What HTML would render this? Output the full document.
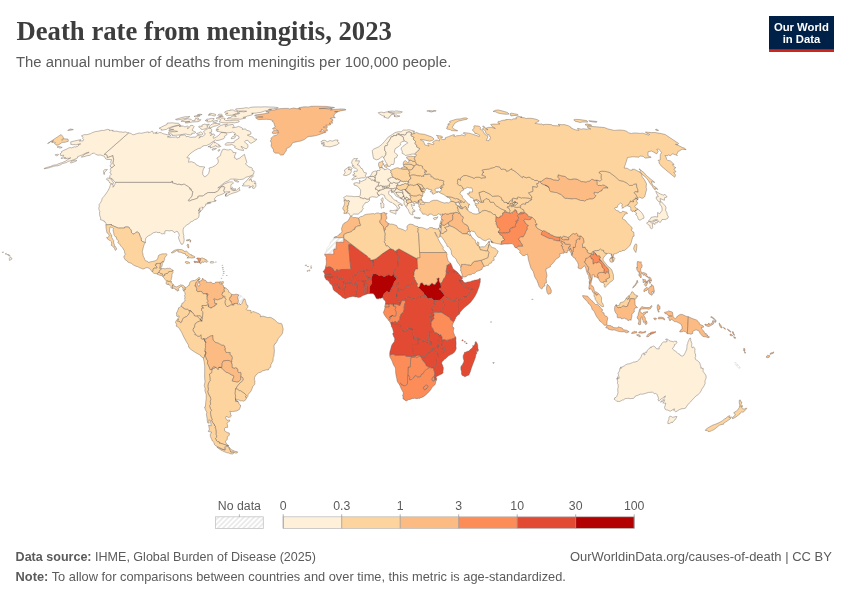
<!DOCTYPE html>
<html lang="en"><head><meta charset="utf-8"><title>Death rate from meningitis, 2023</title>
<style>
html,body{margin:0;padding:0;background:#fff;width:850px;height:600px;overflow:hidden}
svg{will-change:transform;display:block;position:absolute;left:0;top:0;font-family:"Liberation Sans",sans-serif}
.title{font-family:"Liberation Serif",serif;font-weight:bold;fill:#3d3d3d}
.sub{fill:#5b5b5b}
.logo{fill:#fff;font-weight:bold}
.leg{fill:#5b5b5b}
.foot{fill:#5b5b5b}
.map path{stroke:#5f5650;stroke-width:0.4;stroke-linejoin:round}
.c0{fill:#fef0d9}.c1{fill:#fdd49e}.c2{fill:#fdbb84}.c3{fill:#fc8d59}.c4{fill:#e34a33}.c5{fill:#b30000}.cn{fill:url(#nd)}.map path.cn{stroke:#cfcfcf}
</style></head><body>
<svg width="850" height="600" viewBox="0 0 850 600">
<defs><pattern id="nd" width="3.6" height="3.6" patternUnits="userSpaceOnUse" patternTransform="rotate(-45)"><rect width="3.6" height="3.6" fill="#fff"/><line x1="0" y1="1.8" x2="3.6" y2="1.8" stroke="#dddddd" stroke-width="1.1"/></pattern></defs>
<text class="title" x="16.5" y="40" font-size="27" transform="translate(16.5 0) scale(0.989 1) translate(-16.5 0)">Death rate from meningitis, 2023</text>
<text class="sub" x="16" y="66.8" font-size="14.5" transform="translate(16 0) scale(1.026 1) translate(-16 0)">The annual number of deaths from meningitis per 100,000 people.</text>
<rect x="769" y="16" width="65" height="36" fill="#002147"/><rect x="769" y="49.2" width="65" height="2.8" fill="#ce261e"/>
<text class="logo" x="801.4" y="30.6" font-size="11.3" text-anchor="middle">Our World</text>
<text class="logo" x="801.5" y="42.6" font-size="11.3" text-anchor="middle">in Data</text>
<g class="map"><path class="cn" d="M336.3,242.2L336.2,248.9L334.1,249.1L333.6,250.4L333.9,254.2L325,254.2L324.5,255.1L324.7,254L324.8,252.7L325.7,252L326.5,250.7L326.3,249.8L327.2,248L328.5,246.3L329.2,245.9L329.9,244.4L330,242.9L330.8,241.4L332.3,240.4L333.8,237.7L333.9,237.7L343.8,237.7L343.8,238.4L343.8,238.3L343.7,242.3Z"/>
<path class="cn" d="M241.9,303.4L241,304.4L239.9,304.6L239.6,303.8L239.1,303.7L238.4,304.4L237.4,303.9L238,302.8L238.2,301.6L238.6,300.5L237.7,298.9L237.6,297.1L238.9,294.9L239.6,295.2L241.3,295.8L243.7,298L244.1,299.1L242.7,301.5Z"/>
<path class="cn" d="M740.4,367.8L739.4,368.4L738.3,367.7L737,366.5L735.9,365.2L734.9,363.3L734.8,362.4L735.8,362.5L736.8,363.4L737.6,364.3L738.1,365L739.6,366.6Z"/>
<path class="c5" d="M369.4,287.7L369.8,286L370.5,285.3L371.7,283.6L371.4,282.9L371.9,281.9L371.3,280.3L371.4,279.5L371.6,277.1L372.2,276.1L372.5,274.6L373.1,274L375.6,273.7L377.9,274.7L378.8,275.6L379.9,275.7L381,275.1L383.8,276.4L384.9,276.4L386.3,275.2L387.6,275.3L388.3,274.9L389.5,275.1L391.3,275.9L393.1,274.4L393.6,274.5L395.2,277.4L395.6,277.3L396.6,278.3L396.3,278.8L396.2,279.7L394.3,281.7L393.7,283.4L393.4,284.7L392.9,285.3L392.5,287.1L391.2,288.2L390.9,289.5L390.4,290.6L390.2,291.7L388.6,292.6L387.3,291.5L386.4,291.5L385.1,293.1L384.4,293.1L383.3,295.6L382.7,297.5L380.3,298.4L379.5,298.3L378.6,298.8L376.7,298.8L375.5,297.1L374.7,295.3L373.1,293.5L371.4,293.6L369.3,293.6L369.5,289.4Z"/>
<path class="c4" d="M368.1,276.9L365.5,276.4L365.4,275.1L364.1,273.4L363.8,272.2L364,270.9L366.3,269.9L369.4,269.7L371.4,269.3L371.6,267.7L372.9,265.9L372.8,259.9L376,258.7L382.5,253.6L390.2,248.6L393.7,249.7L395,251.2L396.6,250.2L397.3,254.3L398.1,254.9L398.2,255.8L399.1,256.7L398.7,257.8L397.9,263.1L397.9,266.5L395,269L394.1,272.4L394,274.7L394,275.2L393.6,274.5L393.1,274.4L391.3,275.9L389.5,275.1L388.3,274.9L387.6,275.3L386.3,275.2L384.9,276.4L383.8,276.4L381,275.1L379.9,275.7L378.8,275.6L377.9,274.7L375.6,273.7L373.1,274L372.5,274.6L372.2,276.1L371.6,277.1L371.4,279.5L369.7,277.9L368.8,278L368.1,278.7L368.1,277.7L367.3,276.7Z"/>
<path class="c4" d="M398.7,283.9L397.4,281.5L397.4,279.7L397.3,278L396.3,276.3L395.6,277.3L395.2,277.4L393.6,274.5L394,275.2L394,274.7L394.1,272.4L395,269L397.9,266.5L397.9,263.1L398.7,257.8L399.1,256.7L398.2,255.8L398.1,254.9L397.3,254.3L396.6,250.2L398.9,248.8L408,253.8L417.2,258.8L417.7,269.1L415.7,269L414.7,270.9L414.1,272.5L414.6,273.1L413.9,273.9L414.2,275L413.6,276.1L413.4,277L414.2,276.9L414.7,277.9L414.8,279.4L415.6,280.2L415.6,280.8L413.5,281.8L413,282.3L411.4,285.2L409.2,286.4L407,286.2L406.4,286.5L406.6,287.4L405.4,288.3L404.5,289.3L401.6,290.3L401,289.7L400.6,289.7L400.2,290.3L398.3,290.5L397.9,288L395.2,285L395.7,283.7Z"/>
<path class="c5" d="M440.4,289.8L441.6,291L442,292.1L443,292.7L444.5,295.5L442.9,297.3L441.5,298.8L440.1,300L438.5,300L436.6,300.6L435.2,300L434.2,300.8L432.2,299L431.6,297.9L430.3,298.5L429.3,298.3L428.7,298.7L427.6,298.4L426.2,296.3L425.8,295.4L424.1,294.4L423.5,292.8L422.5,291.7L420.9,290.3L420.9,289.9L418.1,287.4L418.8,287.1L419.5,286.6L420.1,284.3L420.7,283.1L422.4,282.7L422.8,283.4L424,285L424.6,285.2L425.4,284.7L427.1,284.8L427.4,285.4L429.7,285.4L429.8,284.8L431,284.3L431.2,283.6L432,283L434,284.6L435.2,284.3L436.3,282.4L437.5,281L437.2,279.4L436.7,278.7L438,278.5L438.2,277.9L439.3,278.1L439,280L439.4,281.9L440.6,282.9L440.9,283.9L440.8,285.2L441.2,285.2L441.2,287.2L440.9,288L439.7,288.1L439.2,289.2L439.6,289.7ZM439.4,288.8L439.7,288.1L440.2,288.1Z"/>
<path class="c2" d="M447.8,264.8L447.1,265.6L446.9,267.4L446.1,271.2L446.4,272.3L446.1,274.5L445.3,277.1L444,278.4L443,280.4L442.8,281.4L441.8,282.2L441.2,284.9L441.2,287.2L441.2,285.2L440.8,285.2L440.9,283.9L440.6,282.9L439.4,281.9L439,280L439.3,278.1L438.2,277.9L438,278.5L436.7,278.7L437.2,279.4L437.5,281L436.3,282.4L435.2,284.3L434,284.6L432,283L431.2,283.6L431,284.3L429.8,284.8L429.7,285.4L427.4,285.4L427.1,284.8L425.4,284.7L424.6,285.2L424,285L422.8,283.4L422.4,282.7L420.7,283.1L420.1,284.3L419.5,286.6L418.8,287.1L418.1,287.4L417.1,286.5L416.9,285.7L417.3,284.6L417.2,283.6L415.9,281.9L415.6,280.8L415.6,280.2L414.8,279.4L414.7,277.9L414.2,276.9L413.4,277L413.6,276.1L414.2,275L413.9,273.9L414.6,273.1L414.1,272.5L414.7,270.9L415.7,269L417.7,269.1L417.2,258.8L417.2,257.7L419.8,257.7L419.6,252.5L446.4,252.5L447.3,255L446.8,255.5L447.3,258.2L448.3,261.3L449.2,261.9L450.5,262.9L449.4,264.4Z"/>
<path class="c4" d="M460.2,277.2L459.4,276.3L458.3,274.8L457.3,274L456.7,273L454.6,272L453.1,272L452.5,271.4L451.2,272L449.7,270.8L449.1,272.8L446.4,272.3L446.1,271.2L446.9,267.4L447.1,265.6L447.8,264.8L449.4,264.4L450.5,262.9L452,265.9L452.7,268.3L454,269.6L457.3,272.1L458.6,273.6L459.9,275.1L460.7,276L461.8,276.7L461.2,277.4Z"/>
<path class="c4" d="M460.7,280.9L460.8,280.9L460.2,281.1L459,281.1L458.9,280.2L458.7,279.5L459.4,278.3L460.2,277.2L461.2,277.4L461.8,276.7L462.4,277.6L462.4,278.7L461.1,279.3L462.1,280L461.6,281.2L461.3,281.4Z"/>
<path class="c4" d="M441.2,284.9L441.2,284.7L441.8,282.2L442.8,281.4L443,280.4L444,278.4L445.3,277.1L446.1,274.5L446.4,272.3L449.1,272.8L449.7,270.8L451.2,272L452.5,271.4L453.1,272L454.6,272L456.7,273L457.3,274L458.3,274.8L459.4,276.3L460.2,277.2L459.4,278.3L458.7,279.5L458.9,280.2L459,281.1L460.2,281.1L460.7,280.9L461.3,281.4L460.8,282.3L461.7,283.7L462.6,285L463.5,285.9L471.1,289L473.1,289L466.7,296.9L463.7,297L461.7,298.8L460.9,298.8L459.6,299.7L458.1,299.7L457.3,298.9L457,298.8L455,299.9L454.4,301L452.8,300.8L452.3,300.5L451.8,300.5L451,300.5L448.1,298.3L446.5,298.3L445.7,297.4L445.7,296L444.5,295.5L443,292.7L442,292.1L441.6,291L440.4,289.8L439.6,289.7L439.2,289.2L439.4,288.8L440.2,288.1L440.9,288L441.2,287.2Z"/>
<path class="c4" d="M457.7,302.7L459.6,299.7L460.9,298.8L461.7,298.8L463.7,297L466.7,296.9L473.1,289L471.1,289L463.5,285.9L462.6,285L461.7,283.7L460.8,282.3L461.3,281.4L461.6,281.2L462.1,280L462.9,280.5L463.4,281.6L464.4,282.6L465.6,282.7L467.7,282L470.2,281.7L472.2,280.8L473.3,280.7L474.1,280.2L475.4,280.1L476.1,280.1L477.2,279.7L478.4,279.4L479.4,278.5L480.3,278.5L480.4,279.2L480.2,280.7L480.3,282.1L479.9,283.1L479.3,285.9L478.3,288.8L477,292.2L475.1,296L473.2,298.9L470.5,302.4L468.2,304.6L464.8,307.2L462.7,309.2L460.1,312.3L459.6,313.7L459.1,314.3L457.7,312.2Z"/>
<path class="c4" d="M457.3,298.9L458.1,299.7L459.6,299.7L457.7,302.7L457.7,312.2L459.1,314.3L457.4,315.4L456.9,316.5L456,316.6L455.7,318.5L454.9,319.5L454.4,321.3L453.5,322.1L450.2,319.5L450.1,318L441.4,312.4L441.3,309.6L442,308.6L443.1,306.8L444,304.9L442.9,302L442.6,300.6L441.5,298.8L442.9,297.3L444.5,295.5L445.7,296L445.7,297.4L446.5,298.3L448.1,298.3L451,300.5L451.8,300.5L452.3,300.5L452.8,300.8L454.4,301L455,299.9L457,298.8Z"/>
<path class="c4" d="M442.6,300.6L442.9,302L444,304.9L443.1,306.8L442,308.6L441.3,309.6L441.4,312.4L436.7,312.6L434.1,312.6L433.3,312.9L431.9,313.7L431.4,313.4L431.4,311.5L431.9,310.5L432.1,308.4L432.6,307.2L433.4,305.8L434.3,305.1L435,304.2L434.1,303.8L434.2,300.8L435.2,300L436.6,300.6L438.5,300L440.1,300L441.5,298.8Z"/>
<path class="c4" d="M434.1,315.9L433.4,316.2L432.2,316.1L431.5,317.5L430.1,317.3L430.3,315.9L430.6,315.7L430.7,314.2L431.4,313.4L431.9,313.7L433.3,312.9L434.2,314.4Z"/>
<path class="c4" d="M430.1,317.3L431.5,317.5L432.2,316.1L433.4,316.2L433.6,317.3L434,317.8L434,318.7L433.5,319.2L432.6,320.6L431.7,321.5L430.8,321.7L430.7,318.5Z"/>
<path class="c4" d="M440.7,334.5L441.1,335.2L441.9,336.5L442.4,340L441.7,342L442.2,345.4L443,345.4L443.8,346.2L444.7,348.1L444.7,351.5L443.7,352L443,353.8L441.5,352.2L441.5,350.4L442,349.1L441.9,348.1L441,347.4L440.4,347.7L439.1,346.4L437.9,345.7L438.7,343.3L439.5,342.4L439.1,340.2L439.6,338.1L440,337.4L438.4,334L439.5,335.2Z"/>
<path class="c3" d="M438.4,334L439.9,337.1L438.9,336ZM453.5,322.1L452.4,325.4L452.5,326.8L453.9,327.8L454,328.5L453.3,330L453.4,330.8L453.3,332.1L454,333.7L454.9,336.3L455.7,336.9L453.8,338.4L451.3,339.4L449.9,339.4L449.1,340.1L447.5,340.2L446.9,340.5L444.1,339.8L442.4,340L441.9,336.5L441.1,335.2L440.7,334.5L439.5,335.2L438.4,334L437.1,333.2L435.7,332.8L434.8,332.4L433.8,331.7L432.6,328.4L431.3,327L430.9,325.4L431.1,324.1L430.8,321.7L431.7,321.5L432.6,320.6L433.5,319.2L434,318.7L434,317.8L433.6,317.3L433.4,316.2L434.1,315.9L434.2,314.4L433.3,312.9L434.1,312.6L436.7,312.6L441.4,312.4L450.1,318L450.2,319.5Z"/>
<path class="c3" d="M427.5,387.6L427,388.5L425.8,388.9L425.3,389.7L424.5,390L423,388L424.3,386.3L425.5,385.3L426.6,384.8L427.5,385.6L428.3,386.3Z"/>
<path class="c3" d="M433,381.2L431.8,379.8L431.8,378.9L432.5,377.9L432.7,377.1L433.4,376.9L434.5,377.4L434.7,378.6L434.8,379.7L434.3,380.9Z"/>
<path class="c4" d="M421.4,358.3L420.6,356.3L423.1,356.5L423.9,356.8L424.6,356.8L426,355.1L428,352.9L428.9,352.7L429.2,351.8L430.5,350.8L432.2,350.4L433.9,351.4L434.3,351.3L435.3,351.9L435.5,352.2L436.3,352.6L436.8,352.7L438,353.6L437.8,356.9L437.3,358.7L437.1,360.6L437.4,361.4L437.1,362.9L436.8,363.2L436.1,365.1L433.5,368L431.6,368.1L429.6,367.6L426.5,366.1L425,363.2L422.5,360.3Z"/>
<path class="c3" d="M421.4,358.3L422.5,360.3L425,363.2L426.5,366.1L429.6,367.6L426.3,369.6L424.2,371.5L423.4,373.2L422.7,374.2L421.4,374.4L421,375.7L420.7,376.5L419.2,377.1L417.4,377L416.4,376.2L415.4,375.9L414.3,376.5L413.7,377.8L412.6,378.6L411.5,379.7L409.8,380L409.4,379.1L409.7,377.5L408.4,375L407.8,374.6L408.1,367L410.3,366.9L410.7,357.6L412.4,357.5L415.9,356.6L416.7,357.7L418.2,356.6L418.9,356.6L420.2,356L420.6,356.3Z"/>
<path class="c3" d="M393.8,354.2L395.1,355.4L395.5,355.2L404.7,355.1L406.1,356.2L412.2,356.6L411.8,356.8L416,355.7L417.8,355.1L419.3,355.2L420.2,355.8L420.2,356L418.9,356.6L418.2,356.6L416.7,357.7L415.9,356.6L412.4,357.5L410.7,357.6L410.3,366.9L408.1,367L407.8,374.6L407.4,384.3L405.4,385.6L404.1,385.8L402.8,385.3L401.8,385.1L401.5,384L400.6,383.3L399.5,384.6L397.9,382.6L397.1,380.7L396.7,378.1L396.2,376.2L395.6,372.2L395.6,369.1L395.3,367.7L394.5,366.6L393.3,364.4L392.2,361.3L390.9,358.8L389.9,357.1L389.8,355.1L391,354.6L392.3,354.2Z"/>
<path class="c3" d="M401.5,384L401.8,385.1L402.8,385.3L404.1,385.8L405.4,385.6L407.4,384.3L407.8,374.6L408.4,375L409.7,377.5L409.4,379.1L409.8,380L411.5,379.7L412.6,378.6L413.7,377.8L414.3,376.5L415.4,375.9L416.4,376.2L417.4,377L419.2,377.1L420.7,376.5L421,375.7L421.4,374.4L422.7,374.2L423.4,373.2L424.2,371.5L426.3,369.6L429.6,367.6L431.6,368.1L433.5,368L434.4,371.7L434.9,373.6L434.3,376.5L434.5,377.4L433.4,376.9L432.7,377.1L432.5,377.9L431.8,378.9L431.8,379.8L433,381.2L434.3,380.9L434.8,379.7L436.5,379.8L435.8,381.7L435.4,383.8L434.7,385L433.1,386.3L432.7,386.7L431.6,388L430.9,389.4L429.5,391.3L426.8,393.9L425.1,395.5L423.3,396.7L420.9,397.7L419.8,397.9L419.5,398.6L418.2,398.2L417,398.7L414.7,398.2L413.4,398.5L412.5,398.4L410.1,399.4L408.2,399.8L406.8,400.8L405.8,400.9L405,399.9L404.3,399.9L403.4,398.7L403.3,399.1L403,398.4L403.1,396.8L402.5,395.1L403.2,394.6L403.3,392.6L402,390.2L400.9,388L399.5,384.6L400.6,383.3ZM426.6,384.8L425.5,385.3L424.3,386.3L423,388L424.5,390L425.3,389.7L425.8,388.9L427,388.5L427.5,387.6L428.3,386.3L427.5,385.6Z"/>
<path class="c4" d="M446.9,340.5L447.5,340.2L449.1,340.1L449.9,339.4L451.3,339.4L453.8,338.4L455.7,336.9L456,338.1L455.9,340.6L456.1,342.9L456,347L456.3,348.3L455.6,350.2L454.6,352L453,353.6L450.9,354.6L448.3,355.9L445.6,358.7L444.7,359.1L443,361L442,361.6L441.7,363.5L442.7,365.4L443,367L443,367.8L443.4,367.6L443.2,370.2L442.8,371.4L443.3,371.9L442.9,372.9L441.9,373.9L440,374.8L437.2,376.2L436.1,377.1L436.3,378.2L436.8,378.4L436.5,379.8L434.8,379.7L434.7,378.6L434.5,377.4L434.3,376.5L434.9,373.6L434.4,371.7L433.5,368L436.1,365.1L436.8,363.2L437.1,362.9L437.4,361.4L437.1,360.6L437.3,358.7L437.8,356.9L438,353.6L436.8,352.7L436.3,352.6L435.5,352.2L435.3,351.9L434.3,351.3L433.9,351.4L432.2,350.4L432.1,348.6L439.1,346.4L440.4,347.7L441,347.4L441.9,348.1L442,349.1L441.5,350.4L441.5,352.2L443,353.8L443.7,352L444.7,351.5L444.7,348.1L443.8,346.2L443,345.4L442.2,345.4L441.7,342L442.4,340L444.1,339.8Z"/>
<path class="c4" d="M437.1,333.2L438.4,334L438.9,336L439.2,336.4L439.9,337.1L440,337.4L439.8,337.9L439.6,338.1L439.1,340.2L439.5,342.4L438.7,343.3L437.9,345.7L439.1,346.4L432.1,348.6L432.2,350.4L430.5,350.8L429.2,351.8L428.9,352.7L428,352.9L426,355.1L424.6,356.8L423.9,356.8L423.1,356.5L420.6,356.3L420.2,356L420.2,355.8L419.3,355.2L417.8,355.1L416,355.7L414.5,354.1L413.1,351.9L413.4,343.6L418.1,343.6L418,342.8L418.3,341.8L417.9,340.5L418.2,339.3L418,338.5L418.8,338.5L418.9,339.3L420,339.3L421.5,339.5L422.2,340.7L424,341.1L425.4,340.2L425.9,341.6L427.7,342L428.5,343.1L429.4,344.5L431.1,344.6L431,341.7L430.4,342.2L428.8,341.2L428.2,340.7L428.5,338.1L429,335L428.5,333.8L429.2,332.2L429.8,331.9L432.9,331.4L433.8,331.7L434.8,332.4L435.7,332.8Z"/>
<path class="c4" d="M394,325.2L400.7,325.3L401.3,327.2L401.9,328.8L402.5,329.6L403.3,331L404.8,330.8L405.6,330.4L406.9,330.8L407.2,330.1L407.8,328.6L409.3,328.5L409.4,328L410.6,328L410.3,329L413.1,329L413.2,330.6L413.6,331.6L413.3,333.2L413.4,334.8L414.2,335.8L414,338.9L414.5,338.6L415.5,338.7L417,338.3L418,338.5L418.2,339.4L417.9,340.5L418.3,341.8L418,342.8L418.1,343.6L413.4,343.6L413.1,351.9L414.5,354.1L416,355.7L412.2,356.6L406.1,356.2L404.7,355.1L395.5,355.2L395.1,355.4L393.8,354.2L392.3,354.2L391,354.6L389.8,355.1L389.7,353.5L390,351.2L390.8,348.8L391,347.7L391.7,345.3L392.3,344.2L393.6,342.5L394.4,341.4L394.7,339.4L394.6,337.9L393.9,337L393.3,335.4L392.7,333.9L392.9,333.3L393.6,332.3L392.9,329.8L392.4,328L391.3,326.3L391.5,325.9L392.5,325.5L393.1,325.5ZM393.1,322.4L392.2,323L391.9,323.6L391.8,324.8L391.2,325L390.6,323.1L391.5,322L392.2,321.5Z"/>
<path class="c3" d="M389.2,307.2L385.8,307.1L385,307.3L384.6,306.9L385.4,304L389.2,304Z"/>
<path class="c3" d="M389.2,307.2L389.2,304L390.2,303.8L391.7,304.2L393,303.9L393.3,304L393.1,305.1L393.8,306.5L395.5,306.3L396.1,306.8L395.1,309.8L396.2,311.4L396.4,313.4L396.1,315.1L395.4,316.4L393.4,316.3L392.2,315L392,316.2L390.4,316.5L389.6,317.2L390.5,318.9L388.7,320.3L386.4,317.7L384.8,315.5L383.4,312.8L383.5,312L384,311.1L384.6,309.2L385,307.3L385.8,307.1Z"/>
<path class="c3" d="M389.6,317.2L392,316.2L392.6,315.5L393.4,316.3L395.4,316.4L396.1,315.1L396.4,313.4L396.2,311.4L395.1,309.8L396.1,306.8L395.5,306.3L393.9,306.5L393.3,304L396.2,304.1L398.1,304.8L399.9,305.4L400.1,304L401.3,301.6L402.6,300.2L404.2,300.6L405.7,300.8L405.6,302.3L404.9,303.7L404.4,305.4L404.1,307.7L404.3,309.2L403.9,310.1L403.8,311L403.6,311.9L402.1,313.1L401,314.5L400,317L400.1,319.2L399.5,320L398.1,321.3L396.7,322.9L395.9,322.4L395.7,321.7L394.5,321.7L393.7,322.7L393.1,322.4L392.2,321.5L391.5,322L390.6,323.1L388.7,320.3L390.5,318.9Z"/>
<path class="c4" d="M393.1,305.1L393.3,304L393.8,305.9L393.5,306ZM385.1,293.1L386.4,291.5L387.3,291.5L388.6,292.6L390.2,291.7L390.4,290.6L390.9,289.5L391.2,288.2L392.5,287.1L392.9,285.3L393.4,284.7L393.7,283.4L394.3,281.7L396.2,279.7L396.3,278.8L396.6,278.3L395.6,277.3L396.3,276.3L397.3,278L397.4,279.7L397.4,281.5L398.7,283.9L395.7,283.7L395.2,285L397.9,288L398.3,290.5L397.2,293.2L396.6,293.6L396.5,295.7L396.7,296.8L396.5,297.6L397.6,298.9L397.8,299.9L398.7,301.2L399.7,302.1L399.8,303.2L400.1,304L399.9,305.4L398.1,304.8L396.2,304.1L393.3,304L393,303.9L391.7,304.2L390.2,303.8L389.2,304L385.4,304L385.7,301.9L384.8,300.2L383.8,299.7L383.3,298.6L382.7,298.2L382.7,297.5L383.3,295.6L384.4,293.1Z"/>
<path class="c4" d="M397.1,294.2L396.6,294.2L396.6,293.6L397.2,293.2L398.3,290.5L400.2,290.3L400.6,289.7L401,289.7L401.6,290.3L404.5,289.3L405.4,288.3L406.6,287.4L406.4,286.5L407,286.2L409.2,286.4L411.4,285.2L413,282.3L413.5,281.8L415.6,280.8L415.9,281.9L417.2,283.6L417.3,284.6L416.9,285.7L417.1,286.5L418.1,287.4L420.9,289.9L420.9,290.3L422.5,291.7L423.5,292.8L424.1,294.4L425.5,295.2L426.2,296.3L425.4,296.5L424,296.5L422.2,296.2L421.4,296.4L421,297L420.3,297.1L419.4,296.6L416.8,297.9L415.8,297.6L415.5,297.8L414.8,299.4L413.1,298.9L411.4,298.6L409.9,297.7L408,296.8L406.8,297.6L405.9,298.9L405.7,300.8L404.2,300.6L402.6,300.2L401.3,301.6L400.6,303L399.8,302.4L399.7,302.1L398.7,301.2L397.8,299.9L397.6,298.9L396.5,297.6L396.7,296.8L396.5,296Z"/>
<path class="c4" d="M366.8,285.9L366.5,285.5L366.4,284.2L365.6,283.3L364.9,282.6L365.2,281.2L366,280.9L366.5,279.8L367.6,279.5L368.1,278.7L369.1,278L369.7,277.9L371.4,279.5L371.4,279.6L371.3,280.3L371.9,281.9L371.4,282.9L371.7,283.6L370.5,285.3L369.8,286L369.4,287.7L369.5,289.4L369.3,293.6L367.4,293.9L366.9,292.1L366.9,287.8Z"/>
<path class="c4" d="M364.5,291.9L364.3,290.6L364.8,288.2L364.2,287.2L364,285.2L364,283.3L363,281.9L363.2,281.1L365.2,281.2L364.9,282.6L365.6,283.3L366.4,284.2L366.5,285.5L366.8,285.9L366.9,287.8L366.9,292.1L367.4,293.9L365.6,294.4L365.1,293.5Z"/>
<path class="c4" d="M356.3,290.6L357.3,288.4L356.6,284.7L356.3,282.8L356.4,281.3L360.4,281.2L361.4,281.3L362.1,280.9L363.2,281.1L363,281.9L364,283.3L364,285.2L364.2,287.2L364.8,288.2L364.3,290.6L364.5,291.9L365.1,293.5L365.6,294.4L362,296L360.7,296.9L358.6,297.6L356.6,296.9L355.7,293.6Z"/>
<path class="c4" d="M343.8,291.9L343.6,290.6L343.7,289.8L344.2,289.1L344.2,288.7L344.1,288.2L344.3,287.8L345.1,287.5L344.6,285.4L344.1,284.3L344.2,283.5L344.7,283.3L345,283L345.6,283.4L345.3,283.2L347.6,283L347.8,282.7L348.2,282.7L348.9,282.4L349.1,282.9L350.7,282.8L351.8,283.4L351.9,283.6L353.4,284.7L354,284.2L355.1,284.1L356.6,284.7L357.3,288.4L356.3,290.6L355.7,293.6L356.6,296.9L355.5,296.9L353.9,296.4L352.4,296.4L349.7,296.9L348.1,297.6L345.8,298.6L345.4,298.5L345.5,296.4L345.8,296L345.7,295L344.7,293.9L344,293.8L343.3,293Z"/>
<path class="c4" d="M351.2,279.3L353,277.2L353.3,275.4L354,274.7L355.1,275.1L356,274.6L356.3,273.9L358.1,272.7L358.6,271.9L360.7,270.8L362,270.4L362.5,270.9L364,270.9L363.8,272.2L364.1,273.4L365.4,275.1L365.5,276.4L367.3,276.7L368.1,277.7L368.1,278.7L367.6,279.5L366.5,279.8L366,280.9L365.2,281.2L363.2,281.1L362.1,280.9L361.4,281.3L360.4,281.2L356.4,281.3L356.3,282.8L356.6,284.7L355.1,284.1L354,284.2L353.4,284.7L351.9,283.6L351.8,283.4L350.7,282.8L350.6,281.3L351.2,280.2Z"/>
<path class="c4" d="M338.5,289.2L339.6,288L340.1,287.9L340.7,287.6L341.7,289.2L341.6,289.4L343.7,289.8L343.6,290.6L343.8,291.9L343.3,293L344,293.8L344.7,293.9L345.7,295L345.8,296L345.5,296.4L345.4,298.5L344.8,298.5L342.4,297.3L340.3,295.3L338.3,293.9L336.8,292.2L337.4,291.3L337.5,290.6Z"/>
<path class="c4" d="M334.6,284.2L335.2,284.2L335.8,283.7L337.6,283.7L338.2,284.6L338.7,285.7L338.7,286.5L339,287.1L339,287.7L339.3,288L339.6,288L338.5,289.2L337.5,290.6L337.4,291.3L336.8,292.2L336.2,292L334.5,291L333.3,289.5L333,288.6L332.7,286.7L333.9,285.5L334.2,284.8Z"/>
<path class="c4" d="M327.4,274.3L327.9,273.7L328.6,273.7L329.5,274.3L330.2,274.3L331,273.9L331.5,274.6L330.5,275.2L329.5,275.2L328.5,274.6L327.6,275.2L327.2,275.3L326.7,275.6L324.6,275.7L324.6,275.6L324.9,274.4Z"/>
<path class="c4" d="M328.4,281.1L327.2,280L326.2,279.8L325.7,279.1L325.8,278.7L325.1,278.1L324.9,277.6L326.1,277.1L326.9,277.2L327.5,276.9L331.8,277L331.7,277.9L331.4,278.2L331.6,279.1L331.3,279.4L330.8,279.4L330.2,279.9L329.7,279.8Z"/>
<path class="c4" d="M333,277.1L331.8,277L327.5,276.9L326.9,277.2L326.1,277.1L324.9,277.6L324.6,275.7L326.7,275.6L327.2,275.3L327.6,275.2L328.5,274.6L329.5,275.2L330.5,275.2L331.5,274.6L331,273.9L330.2,274.3L329.5,274.3L328.6,273.7L327.9,273.7L327.4,274.3L324.9,274.4L324,272.4L322.9,271.4L323.9,270.9L325,269.1L325.6,267.8L326.4,266.9L327.5,267.2L328.6,266.6L329.9,266.6L331,267.3L332.5,268L333.8,270L335.3,271.7L335.4,273.4L335.8,274.9L336.7,275.6L336.9,276.6L336.8,277.4L336.4,277.6L335.2,277.3L335,277.7L334.5,277.7Z"/>
<path class="c4" d="M334.5,277.7L335,277.7L335.2,277.3L336.4,277.6L336.8,277.4L337.1,277.5L338,278.2L338.2,278.1L338.9,278.8L339.8,279L340.5,278.4L341.2,278.1L341.8,277.7L342.2,277.8L342.7,278.3L343,279.1L343.9,280.2L343.5,280.8L343.4,281.7L343.8,281.4L344.1,281.7L344,282.5L344.7,283.3L344.2,283.5L344.1,284.3L344.6,285.4L345.1,287.5L344.3,287.8L344.1,288.2L344.2,288.7L344.2,289.1L343.7,289.8L341.6,289.4L341.7,289.2L340.7,287.6L340.1,287.9L339.6,288L339.3,288L339,287.7L339,287.1L338.7,286.5L338.7,285.7L338.2,284.6L337.6,283.7L335.8,283.7L335.2,284.2L334.6,284.2L334.2,284.8L333.9,285.5L332.7,286.7L331.7,285.1L330.8,284.1L330.2,283.7L329.7,283.3L329.4,282.1L329.1,281.5L328.4,281.1L329.7,279.8L330.2,279.9L330.8,279.4L331.3,279.4L331.6,279.1L331.4,278.2L331.7,277.9L331.8,277L333,277.1Z"/>
<path class="c3" d="M333.9,254.2L333.6,250.4L334.1,249.1L336.2,248.9L336.3,242.2L343.7,242.3L343.8,238.3L352.1,244.7L348.7,244.7L349.6,256L350.6,267.3L351,267.6L350.5,269.4L341.3,269.5L341,270.1L340.1,269.9L338.8,270.4L337.2,269.7L336.5,269.7L336.1,271.3L335.3,271.7L333.8,270L332.5,268L331,267.3L329.9,266.6L328.6,266.6L327.5,267.2L326.4,266.9L325.6,267.8L325.4,266.4L326.1,265.1L326.4,262.6L326.2,260L326,258.7L326.3,257.4L325.7,256.2L324.5,255.1L325,254.2Z"/>
<path class="c4" d="M349.1,282.9L348.9,282.4L348.2,282.7L347.8,282.7L347.6,283L345.3,283.2L345,283L344.7,283.3L344,282.5L344.1,281.7L343.8,281.4L343.4,281.7L343.5,280.8L343.9,280.2L343,279.1L342.7,278.3L342.2,277.8L341.8,277.7L341.2,278.1L340.5,278.4L339.8,279L338.9,278.8L338.2,278.1L338,278.2L337.1,277.5L336.8,277.4L336.9,276.6L336.7,275.6L335.8,274.9L335.4,273.4L335.3,271.7L336.1,271.3L336.5,269.7L337.2,269.7L338.8,270.4L340.1,269.9L341,270.1L341.3,269.5L350.5,269.4L351,267.6L350.6,267.3L349.6,256L348.7,244.7L352.1,244.7L359.6,250.4L367.3,256.1L367.8,257.3L369.2,258L370.3,258.5L370.3,260.1L372.8,259.9L372.7,262.6L372.8,262.5L372.9,265.9L371.6,267.7L371.4,269.3L369.4,269.7L366.3,269.9L364,270.9L362.5,270.9L362,270.4L360.7,270.8L358.6,271.9L358.1,272.7L356.3,273.9L356,274.6L355.1,275.1L354,274.7L353.3,275.4L353,277.2L351.2,279.3L351.2,280.2L350.6,281.3L350.7,282.8Z"/>
<path class="c2" d="M333.8,237.7L335,236.7L337.1,236.4L338.9,234.6L340,233.9L342,231.7L341.5,228.5L342.4,226.2L342.7,224.9L344.2,223.1L346.4,221.9L348.1,220.8L349.6,218.1L350.3,216.5L351.7,216.2L353.1,217.7L355.2,217.5L356.8,217.7L358.4,218.1L359.2,219.7L359.4,221.3L360.1,224.1L360.7,224.6L360.3,225.7L357.4,226.1L356.4,227.1L355.1,227.3L355,229.2L352.4,230.3L351.5,231.6L349.7,232.3L347.5,232.7L343.9,234.6L343.8,237.7L333.9,237.7Z"/>
<path class="c2" d="M387.2,226.1L386.6,227L385.1,228L385.4,229.1L385.2,230.1L384.1,230.7L383.1,226.1L381.7,225L381.6,224.4L379.8,222.8L379.6,220.8L380.9,219.4L381.3,217.2L380.9,214.8L381.3,213.4L383.6,212.4L385.1,212.7L385.1,214L386.9,213.1L387.1,213.5L386.1,214.8L386.1,216L386.9,216.7L386.7,218.9L385.3,220.2L385.7,221.7L386.9,221.7L387.5,223L388.3,223.4L388.3,225.4Z"/>
<path class="c1" d="M418.3,229.8L417.8,231.5L418.6,233.5L419.2,242.8L419.6,252.5L419.8,257.7L417.2,257.7L417.2,258.8L408,253.8L398.9,248.8L396.6,250.2L395,251.2L393.7,249.7L390.2,248.6L389.1,247L387.3,245.8L386.3,246.2L385.5,244.8L385.4,243.7L384,241.8L384.9,240.7L384.6,239L384.9,237.6L384.7,236.4L385,234.3L384.9,233.1L384.1,230.7L385.2,230.1L385.4,229.1L385.1,228L386.6,227L387.2,226.1L388.3,225.4L388.3,223.4L390.9,224.3L391.8,224L393.7,224.5L396.7,225.6L397.8,228L399.8,228.5L403,229.6L405.4,230.9L406.4,230.2L407.4,229L406.8,227L407.4,225.7L408.9,224.5L410.4,224.1L413.4,224.7L414.2,225.8L415.1,225.8L415.8,226.3L418,226.6L418.6,227.5L417.9,228.7Z"/>
<path class="c1" d="M419.2,242.8L418.6,233.5L417.8,231.5L418.3,229.8L417.9,228.7L418.6,227.5L420,227.4L421.5,227.4L423.7,228.1L425.9,228.9L427,229.3L428.6,228.5L429.5,227.7L431.4,227.5L433,227.8L433.7,229.1L434.1,228.3L436,228.9L437.7,229L438.6,228.1L440.6,232.9L440.1,233.9L439.8,235.9L439.3,237.3L438.8,237.7L438,236.9L436.9,235.7L435,232L434.8,232.2L435.9,234.9L437.5,237.6L439.5,241.6L440.4,243.1L441.3,244.5L443.4,247.4L443,247.9L443.2,249.6L446,251.9L446.4,252.5L419.6,252.5Z"/>
<path class="c1" d="M372.8,262.5L372.7,262.6L372.8,259.9ZM343.8,238.4L343.8,237.7L343.8,237.6L343.9,234.6L347.5,232.7L349.7,232.3L351.5,231.6L352.4,230.3L355,229.2L355.1,227.3L356.4,227.1L357.4,226.1L360.3,225.7L360.7,224.6L360.1,224.1L359.4,221.3L359.2,219.7L358.4,218.1L360.5,216.7L362.9,216.2L364.2,215.1L366.3,214.3L370,213.9L373.5,213.6L374.6,214L376.6,213L378.9,213L379.8,213.6L381.3,213.4L380.9,214.8L381.3,217.2L380.9,219.4L379.6,220.8L379.8,222.8L381.6,224.4L381.7,225L383.1,226.1L384.1,230.7L384.9,233.1L385,234.3L384.7,236.4L384.9,237.6L384.6,239L384.9,240.7L384,241.8L385.4,243.7L385.5,244.8L386.3,246.2L387.3,245.8L389.1,247L390.2,248.6L382.5,253.6L376,258.7L372.8,259.9L370.3,260.1L370.3,258.5L369.2,258L367.8,257.3L367.3,256.1L359.6,250.4L352.1,244.7L345.5,239.7L343.8,238.3Z"/>
<path class="c4" d="M392.2,323L393.1,322.4L393.7,322.7L394.5,321.7L395.7,321.7L395.9,322.4L396.7,322.9L398.1,321.3L399.5,320L400.1,319.2L400,317L401,314.5L402.1,313.1L403.6,311.9L403.8,311L403.9,310.1L404.3,309.2L404.1,307.7L404.4,305.4L404.9,303.7L405.6,302.3L405.7,300.8L405.9,298.9L406.8,297.6L408,296.8L409.9,297.7L411.4,298.6L413.1,298.9L414.8,299.4L415.5,297.8L415.8,297.6L416.8,297.9L419.4,296.6L420.3,297.1L421,297L421.4,296.4L422.2,296.2L424,296.5L425.4,296.5L426.2,296.3L427.6,298.4L428.7,298.7L429.3,298.3L430.3,298.5L431.6,297.9L432.2,299L434.2,300.8L434.1,303.8L435,304.2L434.3,305.1L433.4,305.8L432.6,307.2L432.1,308.4L431.9,310.5L431.4,311.5L431.4,313.4L430.7,314.2L430.6,315.7L430.3,315.9L430.1,317.3L430.7,318.5L430.8,321.7L431.1,324.1L430.9,325.4L431.3,327L432.6,328.4L433.8,331.7L432.9,331.4L429.8,331.9L429.2,332.2L428.5,333.8L429,335L428.5,338.1L428.2,340.7L428.8,341.2L430.4,342.2L431,341.7L431.1,344.6L429.4,344.5L428.5,343.1L427.7,342L425.9,341.6L425.4,340.2L424,341.1L422.2,340.7L421.5,339.5L420,339.3L418.9,339.3L418.8,338.5L418,338.5L417,338.3L415.5,338.7L414.5,338.6L414,338.9L414.2,335.8L413.4,334.8L413.3,333.2L413.6,331.6L413.2,330.6L413.1,329L410.3,329L410.6,328L409.4,328L409.3,328.5L407.8,328.6L407.2,330.1L406.9,330.8L405.6,330.4L404.8,330.8L403.3,331L402.5,329.6L401.9,328.8L401.3,327.2L400.7,325.3L394,325.2L393.1,325.5L392.5,325.5L391.5,325.9L391.2,325L391.8,324.8L391.9,323.6ZM389.6,317.2L390.4,316.5L392,316.2ZM392.2,315L392.6,315.5L392,316.2ZM400.1,304L399.8,303.2L399.7,302.1L399.8,302.4L400.6,303ZM396.5,295.7L396.6,294.2L397.1,294.2L396.5,296L396.7,296.8Z"/>
<path class="c4" d="M477.7,345.3L477.9,348.5L478.4,349.7L478.1,351L477.7,351.7L477,350.2L476.5,351L476.8,352.9L476.5,354L475.9,354.6L475.6,356.8L474.5,359.9L473.1,363.5L471.3,368.4L470.2,372L468.9,375.1L467,375.7L464.9,376.8L463.7,376.1L462,375.2L461.5,373.8L461.5,371.5L460.9,369.4L460.8,367.5L461.3,365.7L462.4,365.2L462.5,364.3L463.7,362.3L464,360.7L463.6,359.4L463.2,357.8L463.2,355.4L464.1,353.9L464.5,352.3L465.6,352.2L466.9,351.6L467.8,351.2L468.8,351.1L470.2,349.6L472.2,348L472.9,346.7L472.7,345.6L473.6,345.9L475,344.1L475.1,342.5L475.9,341.4L476.6,342.5L477.2,343.6Z"/>
<path class="c4" d="M467.1,343.4L466.5,344L466,343.4L466.6,342.7ZM464.4,341.8L464.9,341.2L465.4,341.8L464.9,342.4ZM461.9,340.4L462.6,339.6L463.2,340.4L462.5,341.1Z"/>
<path class="c1" d="M491.1,321.5L491.5,322.1L491,322.6L490.5,322.1Z"/>
<path class="c2" d="M493.6,362L494.2,362.8L493.4,363.6L492.8,362.8Z"/>
<path class="c1" d="M532.3,298.9L532.8,299.5L532.4,300L531.9,299.5Z"/>
<path class="c0" d="M357.4,160.8L359.5,160.8L358.9,162.7L357.2,164.9L359.1,165.1L361,168.3L362.3,168.7L363.5,171.5L364.1,172.5L366.4,172.9L366.2,174.5L365.2,175.3L366,176.6L364.2,177.9L361.6,177.9L358.2,178.6L357.2,178.1L355.9,179.2L354.1,179L352.6,179.9L351.6,179.4L354.6,176.8L356.4,176.2L353.3,175.8L352.7,174.8L354.8,174L353.8,172.7L354.2,171.1L357.1,171.3L357.4,169.9L356.1,168.3L353.8,167.9L353.4,167.2L354.1,166.1L353.5,165.4L352.4,166.6L352.4,164.2L351.5,162.9L352.3,160.4L353.8,158.5L355.3,158.7L357.5,158.4L355.5,161.1ZM348.9,168.3L348.6,167L350.2,166.9L352.2,168.4L351.1,170.1L349.6,169.6L348.4,169.7Z"/>
<path class="c0" d="M351.3,171.9L349.8,174.1L346.2,175.6L343.4,175.2L345.2,172.6L344.3,170.1L347,168.2L348.6,167L348.9,168.3L348.4,169.7L349.6,169.6L351.1,170.1Z"/>
<path class="c0" d="M339.3,143.1L336.8,144.9L331.5,146.5L329.9,146.9L327.6,146.6L322.8,145.8L324.7,144.8L321.1,143.7L324.3,143.3L324.3,142.6L320.8,142L322.2,140.6L324.9,140.2L327.3,141.8L330.2,140.5L332.3,141.2L335.3,140L338.1,140.1L337.5,141.6Z"/>
<path class="c0" d="M404.8,135.2L402.9,134.7L400.7,134.8L398.6,133.6L397.7,134.2L396.7,134.3L396.7,135.7L393.5,135.4L393.2,136.6L391.6,136.6L390.7,138.2L389.3,140.7L387,143.9L387.7,144.7L387.2,145.6L385.4,145.6L384.5,147.8L384.9,150.9L386.1,152.1L385.8,154.9L384.4,156.5L383.7,157.9L382.3,156.4L378.8,159.2L376.4,159.8L373.7,158.6L373,156L372.2,150.5L373.8,149L378.4,147L381.7,144.6L384.6,141.4L388.2,137.1L390.9,135.4L395,132.6L398.5,131.7L401.2,131.8L403.3,130L406.3,130.1L409.2,129.7L414.7,131.3L412.8,131.8L415,133.2L412.4,134.1L411.1,134.3L411.4,132.7L409,131.9L406.6,132.6L406.2,134.2ZM396.8,114.9L397.6,115.6L399.9,116.1L396.8,116.9L394,116.4L394.9,115.9L393.9,115.3ZM389,118.1L387.2,118.2L383.8,117L385,116.3L382.7,115.7L379.5,114.1L378.2,112.7L382,112L382.9,112.7L385,112.6L385.4,112L387.5,111.9L389.4,112.6L394.6,114L391.1,114.7L390.6,116.1L389.4,116.5ZM394.4,111.4L395.6,110.9L399.4,111.3L402.4,111.9L400.6,112.9L396.5,113.1L392.1,112.8L391.7,112.3L389.7,112.3L387.9,111.5L392.2,111Z"/>
<path class="c0" d="M655.9,222.4L655,223L655.1,224.5L653.3,223.7L652.8,222.5L653.4,221L654.7,221.3L655.1,220.2L657,220.7L657.7,221.6L657.1,223.2ZM662.1,219.5L660.3,222.5L658.4,221.5L657.4,219.5L653.9,220.1L651.9,221.4L649.3,221.4L652.4,223.3L652.7,227.8L651.7,228.9L650.2,227.8L649.8,225.5L648.1,224.7L646.5,222.9L648.3,222.2L648.7,220.5L650.3,219.2L651.1,217.4L655,216.6L657.6,217.1L657.6,212.5L659.7,213.7L661.5,211.1L662.2,210.1L661.8,206.9L659.7,204L659.7,202.4L661.6,201.9L664.9,205.5L666.1,207.6L665.5,210.2L667,212.9L667.2,215L668.3,216.3L668,218.1L665.8,219.4ZM664.6,197.7L664.4,200.3L660,198.5L660.7,201.4L658.3,201.4L656.4,198.9L656.2,196.9L658.3,196.7L656.5,193.2L655.7,191.2L660,193.8L662.2,194.7L664,195.2L664.8,194.2L667.2,197Z"/>
<path class="c1" d="M635.8,252.5L634.2,250.3L633.6,248.4L634.3,245.8L635.7,243.8L636.9,244.6L636.9,246.2L636.4,250.4Z"/>
<path class="c2" d="M550.2,293.7L548.2,294.3L547,292.3L546.4,288.5L547.2,284.3L548.9,285.7L550.1,287.6L551.3,290.3L551.1,293Z"/>
<path class="c0" d="M434.7,217.5L436.3,217.5L438.1,216.8L436.8,217.8L437,218.3L437.1,218.6L435,219.6L433.9,219.3L433.3,218.2L434.3,218.1L434.4,218.1Z"/>
<path class="c1" d="M384.2,166.1L384,165.4L386.8,164.6L387.5,165.8L386.5,167.8L384.3,166.4ZM378.8,162.9L379.3,162.2L381,162L381.6,161.3L383,160.7L383.1,161.9L382.6,162.7L382.8,163.4L383.9,163.7L383.5,164.7L382.9,164.4L381.7,166.2L382.3,167.4L381,167.8L379.6,167.4L378.7,166.1L378.5,163.6Z"/>
<path class="c0" d="M393,213L389.9,211.7L390.1,210.3L392.6,210.6L394.8,210.3L396.4,210.1L395.8,212.1L396.1,212.9L395.8,214.3L394.1,213.3ZM381.1,207.6L380.9,204.5L380.4,203L381.6,203.1L382.6,202.3L383.9,204.2L383.8,207.6L382.8,207.5L382,208.3ZM388.6,191.6L388.8,192.9L388.6,193.6L389.3,194.9L391.4,196.2L392.5,198.3L395,200.4L396.7,200.4L397.2,201L396.7,201.5L398.6,202.4L400.2,203.2L402.2,204.5L402.4,205L402.1,206L400.8,204.8L398.9,204.3L398.2,206L399.8,207L399.6,208.3L398.7,208.5L397.7,210.7L396.8,210.9L396.8,210.1L397.1,208.7L397.6,208.2L396.6,206.7L395.9,205.4L395,205L394.3,203.9L392.9,203.4L391.9,202.4L390.4,202.2L388.7,201.1L386.6,199.4L385.1,197.9L384.4,195.3L383.3,195L381.6,194.2L380.7,194.5L379.5,195.7L378.6,195.9L378.8,194.8L377.7,194.5L377.1,192.5L377.8,191.7L380.6,190L381.6,189.9L382,188.9L383.5,189.2L384.4,188.8L384.5,187.7L384.5,188L385.3,188L385.7,188.1L385.8,188L388.4,188L387.9,187.1L388.5,188L391.4,188.7L391.3,190L391.9,191.1L390.2,190.7Z"/>
<path class="c0" d="M381.5,198.7L382.8,197.7L383.2,199.9L382.6,201.9L381.7,201.4L381.1,199.6ZM377.7,194.5L378.8,194.8L378.6,195.9L376.8,197.4L372.7,196.7L369.6,197.5L369.4,199.1L367,199.4L364.6,198.2L363.9,198.8L360,197.6L359.2,196.6L360.3,195.1L360.7,190L358.6,187.3L357.1,186L354,185L353.9,183.2L356.5,182.6L359.9,183.3L359.3,180.4L361.1,181.5L365.8,179.5L366.4,177.4L368.1,176.9L368.4,177.8L369.4,177.9L370.3,178.9L371.7,180.1L372.8,179.8L374.5,181L375,181.2L375.6,181.2L376.5,181.9L379.5,182.3L378.5,184.1L378.3,185.9L377.8,186.3L376.9,186.1L376.9,186.7L375.5,188.1L375.5,189.3L376.5,188.9L377.2,190L378.1,190.6L379.1,190.5L380.2,189.6L380.6,190L377.8,191.7L377.1,192.5Z"/>
<path class="c0" d="M419.1,217.6L419.1,218L420.3,217.7L420,218.5L416.9,218.7L416.9,218.3L414.2,217.8L414.5,216.6L415.8,217.5L417.5,217.4ZM407.7,204L407.6,203.3L409,203.1L409.8,202.5L410.9,202.6L411.2,202.1L411.6,202L413.2,202.1L414.8,201.4L416.4,202.3L418.3,202L418.2,200.7L419.2,201.4L418.8,203L418.3,203.4L417,203.3L415.9,203L413.4,203.7L415,205.2L414,205.6L412.8,205.6L411.5,204.2L411.2,204.8L411.8,206.4L413,207.6L412.2,208.2L413.5,209.4L414.7,210.1L414.8,211.6L412.8,210.9L413.5,212.2L412.2,212.5L413.2,214.8L411.8,214.8L409.9,213.7L408.9,211.6L408.4,209.9L407.5,208.7L406.3,207.2L406.1,206.5L407,205.2L407,204.3Z"/>
<path class="c1" d="M345.8,199.6L346.3,200.8L347.5,200.8L347.9,200.5L349.1,200.6L349.6,201.9L348.7,202.6L348.6,204.6L348.2,205L348.1,206.2L347.2,206.4L348,208L347.3,209.7L348.1,210.5L347.7,211.2L346.9,212.2L347.1,213L346.2,213.7L345.1,213.3L343.9,213.6L344.3,211.6L344.2,210L343.2,209.7L342.8,208.8L343,207.1L343.9,206.1L344.1,205.1L344.6,203.5L344.6,202.4L344.2,201.5L344.1,200.6L344.9,200Z"/>
<path class="c0" d="M363.9,198.8L364.6,198.2L367,199.4L369.4,199.1L369.5,200.6L367.6,202.3L364.9,202.9L364.7,203.7L363.4,205.2L362.5,207.3L363.4,208.8L362.1,209.9L361.7,211.6L360,212.1L358.5,214.1L353.7,214.1L352.3,215.1L351.5,216L350.4,215.8L349.6,214.9L349.1,213.4L347.1,213L346.9,212.2L347.7,211.2L348.1,210.5L347.3,209.7L348,208L347.2,206.4L348.1,206.2L348.2,205L348.6,204.6L348.7,202.6L349.6,201.9L349.1,200.6L347.9,200.5L347.5,200.8L346.3,200.8L345.8,199.6L344.9,200L344.1,200.6L344.3,198.8L343.5,197.6L346.5,195.8L349.1,196.2L351.9,196.2L354.1,196.7L355.8,196.5L359.2,196.6L360,197.6Z"/>
<path class="c0" d="M375.6,181.2L375,181.2L374.5,181L374.7,179.6L375.2,179.5L375.6,180.1Z"/>
<path class="c0" d="M373,176.1L374.3,177.2L375.4,177.8L375.2,179.5L374.7,179.6L374.5,181L372.8,179.8L371.7,180.1L370.3,178.9L369.4,177.9L368.4,177.8L368.1,176.9L369.7,176.4L371.2,176.6Z"/>
<path class="c0" d="M376.6,174.2L376.2,175.2L375,175.2L375.4,177.8L374.3,177.2L373,176.1L371.2,176.6L369.7,176.4L370.7,175.7L372.4,172.1L375,171L376.6,171.1L377,171.9Z"/>
<path class="c0" d="M382.5,187.2L383.4,187.7L384.5,187.7L384.4,188.8L383.5,189.2L382,188.9L381.6,189.9L380.6,190L380.2,189.6L379.1,190.5L378.1,190.6L377.2,190L376.5,188.9L375.5,189.3L375.5,188.1L376.9,186.7L376.9,186.1L377.8,186.3L378.3,185.9L380.1,185.9L380.4,185.3L382.7,186.1L382.8,186.6Z"/>
<path class="c0" d="M396.4,185.6L396.8,186.2L396.3,187.8L395.9,188.3L394.1,188.3L393.1,188.9L391.4,188.7L388.5,188L387.9,187.1L385.9,187.6L385.7,188.1L384.5,187.7L383.4,187.7L382.5,187.2L382.8,186.6L382.7,186.1L383.3,186L384.3,186.7L384.6,186L386.4,186.1L387.8,185.7L388.8,185.7L389.5,186.3L389.6,185.8L389.2,184.2L389.9,183.8L390.6,182.7L392.1,183.5L393.2,182.5L393.9,182.3L395.5,183L396.5,182.9L397.4,183.4L397.3,183.7L397.6,184.6L397.5,185.6Z"/>
<path class="c0" d="M395.5,183L393.9,182.3L393.2,182.5L392.1,183.5L390.6,182.7L389.4,181.6L388.3,181L388,179.9L387.6,179.1L389,178.6L389.7,178L391.1,177.5L391.6,177L392.1,177.3L393,177L394,177.9L395.5,178.1L395.4,178.8L396.6,179.3L396.8,178.6L398.2,178.9L398.5,179.7L400,179.8L401,181.1L400.4,181.1L400.2,181.5L399.7,181.7L399.6,182.3L399.2,182.4L399.2,182.6L398.6,182.9L397.7,182.8L397.4,183.4L396.5,182.9Z"/>
<path class="c0" d="M385.8,188L385.9,187.6L387.9,187.1L388.4,188ZM389.4,181.6L390.6,182.7L389.9,183.8L389.2,184.2L389.6,185.8L389.5,186.3L388.8,185.7L387.8,185.7L386.4,186.1L384.6,186L384.3,186.7L383.3,186L382.7,186.1L380.4,185.3L380.1,185.9L378.3,185.9L378.5,184.1L379.5,182.3L376.5,181.9L375.6,181.2L375.6,180.1L375.2,179.5L375.4,177.8L375,175.2L376.2,175.2L376.6,174.2L377,171.9L376.6,171.1L377,170.6L378.6,170.4L379,171L380.2,169.8L379.7,168.8L379.6,167.4L381,167.8L382.3,167.4L382.4,168.3L384.3,168.9L384.4,169.8L386.3,169.3L387.4,168.6L389.6,169.6L390.6,170.4L391.2,171.7L390.7,172.3L391.5,173.2L392.1,174.6L392,175.4L393,177L392.1,177.3L391.6,177L391.1,177.5L389.7,178L389,178.6L387.6,179.1L387.8,179.5L388,179.9L388.3,181Z"/>
<path class="c0" d="M394.1,188.3L395.9,188.3L396.3,187.8L396.6,187.9L397.1,188.7L395.5,189.4L395.4,190.4L394.7,190.7L394.8,191.4L393.9,191.4L393.2,191L392.9,191.4L391.4,191.3L391.9,191.1L391.3,190L391.4,188.7L393.1,188.9Z"/>
<path class="c1" d="M396.4,185.6L397.5,185.6L397.6,184.6L398.7,185.2L399.4,185.5L401.1,185.2L401.2,184.7L402,184.6L403,184.2L403.2,184.4L404.1,184.1L404.5,183.5L405.2,183.3L407.4,184.1L407.8,183.8L409,184.5L409.3,185.2L408.1,185.7L407.3,187.5L406.3,189.2L404.7,189.7L403.4,189.6L401.9,190.2L401.1,190.6L399.4,190.1L397.8,189L397.1,188.7L396.6,187.9L396.3,187.8L396.8,186.2Z"/>
<path class="c0" d="M401.9,180.9L403.1,181.8L404.2,181.3L405.2,181.5L406.6,181.2L408.6,182.1L408.1,182.8L407.8,183.8L407.4,184.1L405.2,183.3L404.5,183.5L404.1,184.1L403.2,184.4L403,184.2L402,184.6L401.2,184.7L401.1,185.2L399.4,185.5L398.7,185.2L397.6,184.6L397.3,183.7L397.4,183.4L397.7,182.8L398.6,182.9L399.2,182.6L399.2,182.4L399.6,182.3L399.7,181.7L400.2,181.5L400.4,181.1L401,181.1L401.2,181.2Z"/>
<path class="c0" d="M402.8,194.1L403.9,195L403.7,196.2L403.2,196.4L402.9,196.6L402.2,197.2L402.1,198.6L400.1,197.6L399.2,196.6L398.4,196L397.4,195L396.9,194.2L395.7,193L396.1,192L396.9,192.6L397.3,192L398.2,192L400.1,192.4L401.5,192.4L402.5,192.9L403.2,192.9Z"/>
<path class="c0" d="M403.2,192L402.5,192.9L401.5,192.4L400.1,192.4L398.2,192L397.3,192L396.9,192.6L396.1,192L395.7,193L396.9,194.2L397.4,195L398.4,196L399.2,196.6L400.1,197.6L402.1,198.6L401.9,199.1L399.8,198.1L398.5,197.2L396.6,196.4L394.7,194.5L395.1,194.3L394,193.2L393.9,192.4L392.6,192L392,193.1L391.4,192.2L391.4,191.7L391.7,191.3L392.9,191.4L393.2,191L393.9,191.4L394.8,191.4L394.7,190.7L395.4,190.4L395.5,189.4L397.1,188.7L397.8,189L399.4,190.1L401.1,190.6L401.9,190.2L402.4,191.2Z"/>
<path class="c0" d="M401.9,199.1L402.1,198.6L402.2,197.2L402.9,196.6L403.2,196.4L403.8,196.8L404.2,197.2L404.9,197.4L405.7,198L405.6,198.2L405.2,198.8L404.7,199L404.5,198.5L403.7,199.8L403.9,200.6L403.5,200.4L402.8,199.6Z"/>
<path class="c0" d="M406.5,200.7L406.3,199.7L405.7,199.5L405.2,198.8L405.6,198.2L406.1,198L406.3,197.2L406.6,197L407,197.4L407.4,197.5L407.7,198L408,198.1L408.5,198.5L408.8,198.5L408.6,199.2L408.4,199.5L408.5,199.7L408,199.8L406.8,200.2L406.8,200.7Z"/>
<path class="c0" d="M406.7,202.7L407.6,203.3L407.7,204L407,204.3L407,205.2L406.1,206.5L405.7,206.3L405.6,205.7L404.4,204.8L404.1,203.6L404.1,201.8L404.3,201L403.9,200.6L403.7,199.8L404.5,198.5L404.7,199L405.2,198.8L405.7,199.5L406.3,199.7L406.5,200.7L406.3,201.5Z"/>
<path class="c1" d="M406.8,200.2L408,199.8L408.5,199.7L409.2,199.5L410.1,199.5L411.3,200.3L411.6,202L411.2,202.1L410.9,202.6L409.8,202.5L409,203.1L407.6,203.3L406.7,202.7L406.3,201.5L406.5,200.7L406.8,200.7Z"/>
<path class="c0" d="M404.7,189.7L405.9,190.7L406.2,191.5L407.5,192.1L407.8,193.2L409.1,193.9L409.7,193.3L410.2,193.6L409.8,194.1L410.2,194.5L409.8,195.1L410,196.1L411.2,197.2L410.5,198L410.2,198.8L410.5,199.1L410.1,199.5L409.2,199.5L408.5,199.7L408.4,199.5L408.6,199.2L408.8,198.5L408.5,198.5L408,198.1L407.7,198L407.4,197.5L407,197.4L406.6,197L406.3,197.2L406.1,198L405.6,198.2L405.7,198L404.9,197.4L404.2,197.2L403.8,196.8L403.7,196.2L403.9,195L402.8,194.1L403.2,192.9L402.5,192.9L403.2,192L402.4,191.2L401.9,190.2L403.4,189.6Z"/>
<path class="c1" d="M411.7,195.4L413.4,195.8L416.4,195.9L417.4,195.3L419.7,194.7L421.4,195.6L422.7,195.9L421.7,197L421.2,198.8L422.1,200.3L420.2,199.9L418.2,200.7L418.3,202L416.4,202.3L414.8,201.4L413.2,202.1L411.6,202L411.3,200.3L410.1,199.5L410.5,199.1L410.2,198.8L410.5,198L411.2,197.2L410,196.1L409.8,195.1L410.2,194.5L410.9,195.6Z"/>
<path class="c1" d="M418.8,183.7L420.4,184.5L421.3,184.6L422.3,185.3L422.3,186.1L423.1,186.6L423.5,187.6L424.4,188.3L424.3,188.6L424.7,188.9L424.2,189.1L423,189L422.7,188.7L422.3,188.9L422.5,189.3L422.1,190.2L421.8,191L421.3,191.3L420.8,190.2L420.9,189.1L420.7,187.9L419.3,186.4L418.5,185.3L417.7,184.6L417.1,184.3L417.5,184Z"/>
<path class="c1" d="M411.4,184.9L412.7,185L413.7,185.6L414.3,185.2L415.8,184.9L416.2,184.3L417.1,184.3L419,186.1L419.2,186.3L420.8,190.1L420.8,190.2L421.3,191.3L422.3,191.8L423.3,191.4L424.2,191.8L424.4,192.5L423.5,193L422.8,192.8L422.7,195.9L421.4,195.6L419.7,194.7L417.4,195.3L416.4,195.9L413.4,195.8L411.7,195.4L410.9,195.6L410.2,194.5L409.8,194L410.2,193.6L409.7,193.3L409.4,193.6L408.6,192.6L405.3,190L405.7,189.4L406.3,189.2L407.3,187.5L408.1,185.7L409.3,185.2L410.1,184.6Z"/>
<path class="c1" d="M392.1,174.6L391.5,173.2L390.7,172.3L391.2,171.7L390.6,170.4L391.9,169.7L394.8,168.5L397.1,167.7L399.1,168.1L399.3,168.7L401.2,168.7L403.6,169L407.2,169L408.2,169.3L408.8,170L409,171.1L409.7,172.1L409.9,173.1L408.8,173.6L409.5,174.7L409.7,175.8L411,178L410.9,178.8L410,179L408.4,181.1L409.1,182.3L408.6,182.1L406.6,181.2L405.2,181.5L404.2,181.3L403.1,181.8L401.9,180.9L401.2,181.2L401,181.1L400,179.8L398.5,179.7L398.2,178.9L396.8,178.6L396.6,179.3L395.5,178.8L395.4,178.8L395.5,178.1L394,177.9L393,177L392,175.4Z"/>
<path class="c1" d="M407,167.7L406.1,167.3L404.1,166.9L403.4,164.8L405.4,164L408.7,164.2L410.5,164L410.8,164.5L411.9,164.6L413.9,165.8L414.3,166.9L412.9,167.7L412.6,169.1L410.7,170L408.8,170L408.2,169.3L407.2,169L406.9,168.4Z"/>
<path class="c1" d="M411.3,160.4L413,161.3L414.6,161.3L415.6,161.8L416,163L416.9,164.5L415,165.4L413.9,165.8L411.9,164.6L410.8,164.5L410.5,164L408.7,164.2L405.4,164L403.4,164.8L403.2,163L403.9,161.4L405.5,160.6L407.3,162.4L408.8,162.4L408.9,160.5L410.4,160.1Z"/>
<path class="c1" d="M414.3,158.3L415.3,160.5L414.6,161.3L413,161.3L411.3,160.4L410.4,160.1L408.9,160.5L408.8,159.1L408.2,159.4L406.9,158.5L406.5,157.1L408.7,156.4L411,156.1L413.1,156.5L415,156.4L415.3,156.9Z"/>
<path class="c1" d="M412.6,169.1L412.9,167.7L414.3,166.9L413.9,165.8L415,165.4L416.9,164.5L419,165.1L419.4,165.7L420.4,165.4L422.3,166L422.8,167.1L422.5,167.8L424,169.4L424.9,169.9L424.9,170.3L426.3,170.8L427,171.4L426.3,172L424.7,171.9L424.4,172.1L425,172.9L425.8,174.5L424.2,174.7L423.6,175.2L423.8,176.5L422.9,176.2L421.1,176.4L420.5,175.8L419.9,176.2L419.1,175.9L417.5,175.8L415.2,175.2L413.2,175L411.6,175.1L410.7,175.7L409.7,175.8L409.5,174.7L408.8,173.6L409.9,173.1L409.7,172.1L409,171.1L408.8,170L410.7,170Z"/>
<path class="c1" d="M420.9,189.1L420.9,189.5L420.4,187.6L420.7,187.9ZM441.3,188L441.4,188.7L441.1,189L440.3,188.4ZM417.1,184.3L417.7,184.6L418.5,185.3L419,186.1ZM431.1,175.4L430.7,175.9L431,176.7L432.7,176.8L433.6,177.9L433.7,178.4L436.4,179.2L437.8,178.9L439.3,180L440.5,180L443.6,180.8L443.8,181.6L443.2,182.9L444,184.3L443.8,185.2L441.9,185.3L441,186L441.2,187.2L439.6,187.4L438.4,188.2L436.5,188.3L434.9,189.3L435.3,190.9L436.4,191.5L438.5,191.4L438.2,192.3L436,192.7L433.5,194.2L432.2,193.7L432.5,192.5L430.1,191.7L430.4,191.2L432.2,190.4L431.5,189.8L428.2,189.2L428,188.2L426.1,188.5L425.6,189.9L424.2,191.8L423.3,191.4L422.8,191.6L421.3,191.3L421.8,191L422.1,190.2L422.5,189.3L422.3,188.9L422.7,188.7L423,189L424.2,189.1L424.7,188.9L424.3,188.6L424.4,188.3L423.5,187.6L423.1,186.6L422.3,186.1L422.3,185.3L421.3,184.6L420.4,184.5L418.8,183.7L417.5,184L417.1,184.3L416.2,184.3L415.8,184.9L414.3,185.2L413.7,185.6L412.7,185L411.4,184.9L410.1,184.6L409.3,185.2L409,184.5L407.8,183.8L408.1,182.8L408.6,182.1L409.1,182.3L408.4,181.1L410,179L410.9,178.8L411,178L409.7,175.8L410.7,175.7L411.2,175.3L412.1,175.1L413.2,175L415.2,175.2L417.5,175.8L419.1,175.9L419.9,176.2L420.5,175.8L421.1,176.4L422.9,176.2L423.8,176.5L423.6,175.2L424.2,174.7L425.8,174.5L426.6,174.6L427,174.1L427.6,174.2L429.6,173.9Z"/>
<path class="c0" d="M414.2,137.3L413,139L415.7,141.6L414.9,143.6L416.9,145.3L416.6,146.8L419.6,148.4L419.2,149.6L417.9,151L414.6,154L411.3,154.2L408.3,155L405.3,155.5L404.1,154.2L402.2,153.5L402.2,151.1L401,149L401.6,147.6L403,146.2L406.5,143.7L407.6,143.2L407.2,142.2L404.6,141.1L403.8,140.3L403.1,136.8L400.2,135.3L397.7,134.2L398.6,133.6L400.7,134.8L402.9,134.7L404.8,135.2L406.2,134.2L406.6,132.6L409,131.9L411.4,132.7L411.1,134.3L411.2,135.9Z"/>
<path class="c0" d="M385.8,154.9L386.1,152.1L384.9,150.9L384.5,147.8L385.4,145.6L387.2,145.6L387.7,144.7L387,143.9L389.3,140.7L390.7,138.2L391.6,136.6L393.2,136.6L393.5,135.4L396.7,135.7L396.7,134.3L397.7,134.2L400.2,135.3L403.1,136.8L403.8,140.3L404.6,141.1L401.7,141.8L400.3,143.4L400.8,144.8L398.3,146.7L395.2,148.7L394.3,152L395.8,153.7L397.7,155L396.4,157.7L394.5,158.3L394.3,162.3L393.5,164.6L391.1,164.4L390.2,166.3L388,166.4L387.2,164.1L385.4,161.4L383.7,157.9L384.4,156.5Z"/>
<path class="c1" d="M448.6,196.7L451.7,197.2L454.8,198.4L455.3,198.9L456.5,198.5L458.6,199L459.4,200.1L460.8,200.7L460.4,201L461.7,202.4L461.5,202.7L460.3,202.6L458.6,201.8L458.1,202.2L455.3,202.7L453,201.4L450.8,201.5L450.9,200.4L450,198.6L448.7,197.7L447.4,197.4L446.5,196.6L446.7,196.3Z"/>
<path class="c0" d="M458.7,202.9L459.6,203.4L459.3,204L460.6,204.9L460.2,205.7L461.2,206.4L462.2,206.9L462.6,208.7L461.9,208.8L460.7,207.2L460.7,206.9L459.7,206.9L459,206.2L458.5,206.2L457.5,205.5L455.9,204.8L455.8,203.6L455.3,202.7L458.1,202.2Z"/>
<path class="c1" d="M460.7,206.9L460.7,207.2L461.9,208.8L460.3,208.4L459,207.2L458.5,206.2L459,206.2L459.7,206.9ZM465.5,200.8L466.9,202.2L468.3,204L469.3,204.1L470.1,204.8L468.5,205L468.5,207L468.3,208L467.6,208.5L467.9,209.8L467.4,210L465.8,208.6L466.3,207.3L465.5,206.6L464.8,206.8L462.6,208.7L462.2,206.9L461.2,206.4L460.2,205.7L460.6,204.9L459.3,204L459.6,203.4L458.7,202.9L458.1,202.2L458.6,201.8L460.3,202.6L461.5,202.7L461.7,202.4L460.4,201L460.8,200.7L461.5,200.7L463.2,202.3L464.2,202.5L464.4,201.8Z"/>
<path class="c1" d="M440.9,223.5L440.1,223.5L440.7,221.3L441.5,219.5L441.6,219.4L442.6,219.6L443,220.6L442,221.6L441.6,223L441,223Z"/>
<path class="c1" d="M441.2,227.7L440.2,228L440.2,227.3L440.7,227L440.1,226.7L440.4,224.9L441.3,225.3L441.4,226.9Z"/>
<path class="c0" d="M441.3,228.7L440.6,232.9L438.6,228.1L439.3,227.5L439.1,227.4L439.6,226.2L439.8,224.2L440.1,223.5L440.9,223.5L441,223L441.6,223L441.7,224.1L441.5,224.5L441.3,225.3L440.4,224.9L440.1,226.7L440.7,227L440.2,227.3L440.2,228L441.2,227.7Z"/>
<path class="c1" d="M444.1,225.5L448.1,222.7L449.3,225.9L448.9,226.3L444.7,227.6L447.2,230.2L446.5,230.7L446.2,231.6L444.6,231.9L444.1,232.8L443.2,233.6L440.7,233.2L440.6,232.9L441.3,228.7L441.2,227.7L441.4,226.9L441.3,225.3L441.5,224.5Z"/>
<path class="c2" d="M441.5,224.5L441.7,224.1L441.6,223L442,221.6L443,220.6L442.6,219.6L441.6,219.4L441.1,217.4L441.5,216.4L442,215.8L442.5,215.2L442.4,213.8L443.2,214.3L445.5,213.5L446.7,214L448.5,214L450.8,213.1L452,213.1L454.4,212.7L453.5,214.3L452.4,215L452.9,216.9L452.6,220L448.1,222.7L444.1,225.5Z"/>
<path class="c0" d="M466.6,233.9L467.9,231.4L469.4,231.6L470,232.8L469.9,233.4L470.9,235.3L469.3,235.4L468.6,234.2Z"/>
<path class="c2" d="M462.5,219.2L462.3,221.2L464.2,223.7L467.1,225.1L468.5,227.1L468.4,229L469.1,229L469.3,230.4L470.6,231.6L469.4,231.6L467.9,231.4L466.6,233.9L462.4,233.7L455.6,228.5L452.1,226.6L449.3,225.9L448.1,222.7L452.6,220L452.9,216.9L452.4,215L453.5,214.3L454.4,212.7L455.2,212.3L457.8,212.6L458.7,213.3L459.6,212.8L461.5,215.9L463.1,216.7L463.5,218.3Z"/>
<path class="c1" d="M477.3,245.3L476.9,243.4L477.4,242L478,241.7L478.7,242.5L478.9,244L478.6,245.6L478,245.8Z"/>
<path class="c1" d="M489.8,244.8L488.6,244.8L488.6,246.5L489,246.9L488.1,247.4L488.2,248.5L487.6,249.6L487.6,250.6L487.2,251.1L480.3,249.8L479.3,247.2L479.1,246.6L479.5,246.5L479.6,247.2L481.4,246.8L483.2,246.8L484.6,246.9L486,245.1L487.5,243.5L488.7,241.8L489.2,242.8Z"/>
<path class="c2" d="M461.3,265.3L461.9,264L462.8,264.7L463.4,264.4L466.1,264.4L466.5,264.7L468.7,264.9L469.6,264.8L470.2,265.6L471.2,265.2L472.7,262.5L474.7,261.3L481.2,260.3L483.3,264.6L484.2,266.4L482.6,267.1L482.2,268.3L482.2,269.2L480,270.3L476.4,271.5L474.5,273.4L473.5,273.5L472.8,273.3L471.5,274.4L470.1,274.9L468.2,275L467.6,275.2L467.1,275.9L466.5,276.1L466.2,276.7L465,276.7L464.4,277L462.7,276.9L462.1,275.4L462.1,274L461.7,273.2L461.1,271.3L460.4,270.2L460.9,270.1L460.6,268.9L460.8,268.4L460.7,267.2L461.6,266.4Z"/>
<path class="c1" d="M488.2,248.5L488.1,247.4L489,246.9L488.6,246.5L488.6,244.8L489.8,244.8L491,246.6L492.3,247.5L494,247.9L495.4,248.4L496.5,249.9L497.2,250.7L498.1,251.1L498.1,251.5L498.1,251.6L497.4,253.2L497.1,253.9L496.3,254.8L495.6,256.6L494.5,256.4L494.1,257.1L493.9,258.4L494.3,260.1L494.1,260.4L493.1,260.4L491.8,261.4L491.6,262.7L491.2,263.2L489.7,263.2L488.9,263.9L489,264.9L487.9,265.6L486.7,265.4L485.2,266.3L484.2,266.4L483.3,264.6L481.2,260.3L487.8,257.7L488.9,252.5L487.6,250.6L487.6,249.6ZM493.5,242.9L491.8,242.7L491.1,241.1L493,242ZM489.2,242.8L488.7,241.8L489.2,241L489.6,241.2L489.5,242.3Z"/>
<path class="c1" d="M444.1,232.8L444.6,231.9L446.2,231.6L446.5,230.7L447.2,230.2L444.7,227.6L448.9,226.3L449.3,225.9L452.1,226.6L455.6,228.5L462.4,233.7L466.6,233.9L468.6,234.2L469.3,235.4L470.9,235.3L472,237.6L473.1,238.2L473.6,239.1L475.3,240.2L475.5,241.3L475.4,242.2L475.8,243L476.5,243.8L476.9,244.6L477.3,245.3L478,245.8L478.6,245.6L479.1,246.6L479.3,247.2L480.3,249.8L487.2,251.1L487.6,250.6L488.9,252.5L487.8,257.7L481.2,260.3L474.7,261.3L472.7,262.5L471.2,265.2L470.2,265.6L469.6,264.8L468.7,264.9L466.5,264.7L466.1,264.4L463.4,264.4L462.8,264.7L461.9,264L461.3,265.3L461.6,266.4L460.7,267.2L460.3,266.1L459.6,265.3L459.3,264.3L458.1,263.3L456.8,261.2L456,259L454.3,257.2L453.3,256.8L451.6,254.3L451.3,252.5L451.3,250.9L449.8,248L448.7,247L447.4,246.5L446.6,245L446.7,244.4L445.9,243.1L445.2,242.5L444.2,240.5L442.7,238.4L441.4,236.6L440.3,236.6L440.5,235.2L440.5,234.3L440.7,233.2L443.2,233.6Z"/>
<path class="c1" d="M455.3,202.7L455.8,203.6L455.9,204.8L457.5,205.5L458.5,206.2L457.2,207L458.4,210L458.1,210.8L459.6,212.8L458.7,213.3L457.8,212.6L455.2,212.3L454.4,212.7L452,213.1L450.8,213.1L448.5,214L446.7,214L445.5,213.5L443.2,214.3L442.4,213.8L442.5,215.2L442,215.8L441.5,216.4L440.6,215.2L441.2,214.2L440,214.4L438.1,213.8L436.8,215.3L433.5,215.6L431.6,214.2L429.3,214.1L428.9,215.2L427.4,215.5L425.2,214.1L422.8,214.2L421.3,211.6L419.6,210.1L420.4,208.1L418.9,206.9L418.9,205.5L419.2,205.1L418.3,203.9L418.3,203.4L418.8,203L419.2,201.4L418.2,200.7L420.2,199.9L422.1,200.3L422.4,201.3L424.4,202.1L424.1,202.8L421.6,202.9L420.8,203.7L420,204.3L421,204.4L424.3,204.3L424.7,203.1L424.9,202.3L429,202.7L431.3,201L433.6,200.3L437.1,200.2L441.1,202L444.3,203L446.7,202.6L448.5,202.9L450.8,201.5L453,201.4Z"/>
<path class="c1" d="M481.1,212.3L479.3,212.8L478.6,210.9L478.3,208.2L476.4,207.3L476.6,205.5L475.2,205.4L475.2,203.2L477.3,203.8L479,203L477.1,201.5L476.1,200L474.6,200.6L474.8,202.5L473.7,200.9L474.5,200L476.7,199.5L478.3,200.2L480.3,202.2L481.4,202.1L483.7,202.1L483,200.7L484.6,199.9L486,198.4L489.2,199.7L489.9,201.8L490.9,202.3L493.2,202.2L494,202.7L495.7,205.4L498.6,207.1L500.3,208.4L502.9,209.6L506,210.8L506.4,212.3L505.7,212.3L504.5,211.6L504.4,212.5L502.7,213L502.8,215.1L501.7,215.9L500.1,216.3L499.9,217.5L498.3,217.8L495.9,216.8L495.3,214.6L493.6,214.5L490.6,212.2L488.9,211.9L486.2,210.6L484.6,210.4L483.8,210.8L482.6,210.8L482.1,211.1Z"/>
<path class="c3" d="M499.9,217.5L500.1,216.3L501.7,215.9L502.8,215.1L502.7,213L504.4,212.5L504.5,211.6L505.7,212.3L506.4,212.3L507.6,212.3L509.3,212.9L510.1,213.2L511.4,212.4L512.3,212.9L512.7,211.7L514.2,211.4L514.1,210.3L514.8,209.4L516.1,210L516.1,210.8L516.8,210.9L517.2,213.1L518.3,214L518.9,213.4L519.8,213.2L520.8,212L522.3,212.2L524.5,212.2L525.1,212.9L524,213.2L523,213.7L520.6,214L518.4,214.6L517.4,215.7L518.2,216.8L518.8,218.1L518,219.2L518.3,220.2L517.9,221.1L515.8,221.1L517.1,222.8L515.9,223.4L515.3,225L515.7,226.6L515,227.3L514.1,227.1L512.5,227.4L512.4,228.2L510.8,228.2L509.8,229.6L510.2,231.8L507.5,232.9L505.9,232.7L505.5,233.3L504.1,232.9L502,233.3L498,232L499.7,229.6L499.2,228L497.4,227.5L497,225.9L495.9,223.8L496.5,222.3L495.5,221.9L495.7,220.1L495.9,216.8L498.3,217.8Z"/>
<path class="c1" d="M469.1,229L468.4,229L468.5,227.1L467.1,225.1L464.2,223.7L462.3,221.2L462.5,219.2L463.5,218.3L463.1,216.7L461.5,215.9L459.6,212.8L458.1,210.8L458.4,210L457.2,207L458.5,206.2L459,207.2L460.3,208.4L461.9,208.8L462.6,208.7L464.8,206.8L465.5,206.6L466.3,207.3L465.8,208.6L467.4,210L467.9,209.8L469,211.8L471.1,212.3L472.8,213.6L476,214.1L479.3,213.4L479.3,212.8L481.1,212.3L482.1,211.1L482.6,210.8L483.8,210.8L484.6,210.4L486.2,210.6L488.9,211.9L490.6,212.2L493.6,214.5L495.3,214.6L495.9,216.8L495.7,220.1L495.5,221.9L496.5,222.3L495.9,223.8L497,225.9L497.4,227.5L499.2,228L499.7,229.6L498,232L499.4,233.4L500.5,235L502.8,236.1L503.2,238.4L504.3,238.8L504.7,240L501.6,241.4L501.2,244.4L496.9,243.6L494.4,243L493.5,242.9L493,242L491.1,241.1L491.8,242.7L490.4,239.5L489.3,239L487.6,239.5L485.6,240.8L482.7,239.9L480.2,237.9L478,237.1L476.2,234.7L474.1,231.2L473,231.6L471.4,230.7L470.7,231.7L470.6,231.6L469.3,230.4Z"/>
<path class="c1" d="M522.1,209.1L523.6,209.7L523.8,210.7L524.5,212.2L522.3,212.2L520.8,212L519.8,213.2L518.9,213.4L518.3,214L517.2,213.1L516.8,210.9L516.1,210.8L516.1,210L514.8,209.4L514.1,210.3L514.2,211.4L512.7,211.7L512.3,212.9L511.4,212.4L510.1,213.2L509.3,212.9L509.9,210.3L508.9,208.3L507.2,207.7L507.4,206.6L509.2,206.7L509.8,205.2L510,203.6L512.7,203L512.6,204.2L513.1,204.9L514,204.9L513.4,205.6L511,205.2L511.2,206.7L513.5,206.5L516.3,207.4L520.3,207L520.8,208.1L521.9,209.2Z"/>
<path class="c1" d="M520.2,205.8L520.7,206.4L520.3,207L516.3,207.4L513.5,206.5L511.2,206.7L511,205.2L513.4,205.6L514,204.9L515.6,205.1L517.8,203.2L514.9,201.9L513.6,202.5L511.7,201.5L512.9,199.9L512.2,199.6L512.4,198.5L513.6,198.1L517.3,199L517.2,197.5L518.2,196.9L521.5,198L522.2,197.7L525.7,197.8L528.9,198.1L530.3,199L531.7,199.4L531.6,200L528.8,201.4L528.4,202.4L525.8,202.7L525.5,204.4L523.2,204L521.9,204.5L520.3,205.7Z"/>
<path class="c1" d="M509.3,212.9L507.6,212.3L506.4,212.3L506,210.8L502.9,209.6L500.3,208.4L498.6,207.1L495.7,205.4L494,202.7L493.2,202.2L490.9,202.3L489.9,201.8L489.2,199.7L486,198.4L484.6,199.9L483,200.7L483.7,202.1L481.4,202.1L478.8,192.6L483.7,191.1L484.1,191.3L487.9,193.1L489.9,194.1L492.5,196.4L494.9,196L498.4,195.8L501.5,197.7L502.1,200.3L503.1,200.3L504.1,202.4L506.9,202.5L507.8,203.8L508.6,203.7L509,201.9L511.2,200.1L512.2,199.6L512.9,199.9L511.7,201.5L513.6,202.5L514.7,202L515.5,202.9L513.3,204.9L513.1,204.9L512.6,204.2L512.7,203L510,203.6L509.8,205.2L509.2,206.7L507.4,206.6L507.2,207.7L508.9,208.3L509.9,210.3L509.6,211.8Z"/>
<path class="c1" d="M514.7,202L513.6,202.5L514.9,201.9L515.9,202.4L515.1,202.5ZM460.8,185.6L459.3,185.6L457.2,183.9L457.9,182L457.2,181.4L458.1,178.7L460.5,180.2L460.2,178.3L463.6,175.6L466.6,175.5L471.5,177.2L474.2,178.3L476,177.2L479.1,177.2L482.1,178.4L482.4,177.7L485.3,177.8L485.4,176.6L481.5,174.9L483,173.7L482.3,173L484,172.3L481.9,170.7L482.5,169.8L489.4,168.9L490.1,168.3L494.5,167.4L495.8,166.4L499.5,166.9L501.3,169.5L503,168.9L505.9,169.7L506.4,171.1L508.2,170.9L511.9,168.6L511.6,169.4L515,171.3L522.4,177.7L522.9,176.3L526.3,177.8L528.8,177.1L530.2,177.6L531.8,179L533.5,179.5L534.8,180.6L537.2,180.3L539,181.8L538.3,183.5L536.7,183.7L537.7,186.3L537.1,187.4L532.7,186.6L533.1,191.2L532.3,191.7L528.6,192.8L532.2,197.3L531,197.9L531.7,199.4L530.3,199L528.9,198.1L525.7,197.8L522.2,197.7L521.5,198L518.2,196.9L517.2,197.5L517.3,199L513.6,198.1L512.4,198.5L512.2,199.6L511.2,200.1L509,201.9L508.7,203.4L507.6,203.5L506.9,202.5L504.1,202.4L503.1,200.3L502.1,200.3L501.5,197.7L498.4,195.8L494.9,196L492.5,196.4L489.9,194.1L487.9,193.1L484.1,191.3L483.7,191.1L478.8,192.6L481.4,202.1L480.3,202.2L478.3,200.2L476.7,199.5L474.5,200L473.7,200.9L473.5,200.2L473.7,199.2L473.1,198.3L470.5,197.4L469,195.1L467.7,194.4L467.4,193.6L469.5,193.6L469,192L472.6,191.9L472.4,189.4L471.6,187.8L469.6,188L467.7,187.3L465.6,188.4L463.8,189L462.7,188.6L462.5,187.2Z"/>
<path class="c2" d="M544.4,179L546.8,177.8L548.9,178.6L551,178.6L553,179.8L555,179.9L558.3,180.5L559.3,178.8L557.6,177.3L558.2,174.7L561,175.7L563,176L565.7,176.7L567.2,178.5L570.6,179.6L572.2,179.1L574.6,178.8L576.8,179.1L579.5,180.4L581.4,181.6L583.3,181.6L586.1,182L587.5,181.4L589.9,181L591.7,179.2L593.1,179.5L594.7,180.3L597,180.1L597.2,182L597.3,184.5L598.4,185.6L599.4,185.3L601.7,185.7L602.6,184.7L604.8,185.5L607.7,187.3L608,188.2L606.2,187.9L603.5,188.3L602.5,189L601.9,190.7L599.3,191.7L598,193.1L595.6,192.5L594.3,192.3L594.2,194L595.4,195L596.1,195.8L595.1,196.7L594.3,198.1L592.3,199L589.2,199.1L586.3,200L584.5,201.3L583.2,200.5L580.6,200.5L576.8,199L574.6,198.6L571.9,199L567.3,198.4L565.1,198.4L563.1,196.9L561.1,194.5L559.7,194.2L556.5,192.6L553.5,192.3L550.9,191.8L549.6,190.7L549.1,187.7L546.7,185.7L543.4,184.7L541.1,183.4L539.7,181.6L541.6,181.2Z"/>
<path class="c3" d="M560.2,239.9L560.2,240.9L558.3,241L555.5,240.4L553.7,240.1L552.2,238.8L549.1,238.5L545.9,237L543.5,235.7L541.2,234.7L541.6,232.3L542.7,231.1L543.5,230.5L545.4,231.2L548,233L549.4,233.3L550.4,234.6L552.2,235.1L554.2,236.3L556.9,236.9L559.5,237.1L559.6,238.2Z"/>
<path class="c2" d="M568.8,239.8L567,239.9L565.1,239.7L563.8,240.1L561.6,239.1L561.4,238.6L562.5,236.7L563.5,236L565.3,236.6L566.5,236.7L567.6,237.4L568.7,238.2Z"/>
<path class="c2" d="M571.8,253.8L572.2,255.9L571.4,254.6L571.1,253.2L570.4,252L569.3,250.4L567.2,250.3L567.6,251.4L567,252.9L566,252.4L565.7,252.8L565.1,252.5L564.2,252.3L563.5,250.2L562.4,248.2L562.6,246.6L561.1,245.9L561.5,245L562.7,244L560.8,242.6L561.3,240.8L563.3,242L564.3,242.1L564.9,243.9L567.1,244.3L569.2,244.2L570.5,244.7L569.9,246.9L568.9,247L568.4,248.5L569.8,249.9L570,248.2L570.6,248.2L572.4,252.4L572.6,254.2Z"/>
<path class="c3" d="M527.1,214.1L528.2,216.2L532.1,217.2L530.6,219.4L528.3,219.8L524.8,219.2L524,220.3L525.3,222.6L526.5,224.3L528.6,225.6L527,227.1L527.5,229L525.8,231.6L524.9,234.3L523.1,237L520.5,236.8L518.5,239.6L520.1,240.7L520.7,242.7L522.1,244L522.8,246.3L517.9,246.3L516.6,248L514.9,247.4L514,245.5L512,243.5L507.9,244L504.3,244L501.2,244.4L501.6,241.4L504.7,240L504.3,238.8L503.2,238.4L502.8,236.1L500.5,235L499.4,233.4L498,232L502,233.3L504.1,232.9L505.5,233.3L505.9,232.7L507.5,232.9L510.2,231.8L509.8,229.6L510.8,228.2L512.4,228.2L512.5,227.4L514.1,227.1L515,227.3L515.7,226.6L515.3,225L515.9,223.4L517.1,222.8L515.8,221.1L517.9,221.1L518.3,220.2L518,219.2L518.8,218.1L518.2,216.8L517.4,215.7L518.4,214.6L518.5,214.5L518.8,214.6L519,214.4L520.6,214L523,213.7L524,213.2L525.1,212.9Z"/>
<path class="c2" d="M588.7,267.7L588.1,271.7L589.8,273.8L590.2,275.3L590.3,276.5L591.5,278.9L590.4,281.3L589.5,284L589.1,282L589.7,280L588.8,278.5L588.7,275.6L587.6,274.3L586.5,271.2L585.7,267.9L584.5,265.7L583.2,267L580.8,268.9L579.5,268.6L578,268L578.4,264.8L577.6,262.4L575.4,259.3L575.5,258.4L574.1,258L572.2,255.9L571.8,253.8L572.6,254.2L572.4,252.4L573.3,251.3L573,250.6L573.4,249.7L573.1,247L574.9,247.6L575.5,245.5L575.4,244.2L576.3,242L575.9,240.5L578.4,238.7L580.1,239.2L579.6,239.1L579.8,238.4L579.6,237.6L580.2,237.1L579.8,236.1L581.1,235.9L582.2,237.4L583.3,238.1L583.8,240.1L584.2,242.2L582.5,244.4L582.7,247.5L585.1,247.1L586,249.5L587.5,250L587.2,252.1L589,253.1L590.1,253.6L591.6,252.8L591.9,253.9L590.2,255.6L589.9,256.6L588.6,257.2L587.5,258.3L585.9,258.4L585.3,261.3L584.4,261.7L587.1,265.5L587.5,265.9Z"/>
<path class="c2" d="M536.8,223.7L537.1,225.1L535.4,224.7L536.7,227.6L539.2,229.3L542.7,231.1L541.6,232.3L541.2,234.7L543.5,235.7L545.9,237L549.1,238.5L552.2,238.8L553.7,240.1L555.5,240.4L558.3,241L560.2,240.9L560.2,239.9L559.6,238.2L559.5,237.1L560.8,236.5L561.4,238.6L561.6,239.1L563.8,240.1L565.1,239.7L567,239.9L568.8,239.8L568.7,238.2L567.6,237.4L569.3,237L570.9,235.1L573.1,233.4L575.1,234.1L576.4,233L577.8,234.6L577.3,235.7L579.8,236.1L580.2,237.1L579.6,237.6L579.8,238.4L579.6,239.1L578.4,238.7L575.9,240.5L576.3,242L575.4,244.2L575.5,245.5L574.9,247.6L573.1,247L573.4,249.7L573,250.6L573.3,251.3L572.4,252.4L570.6,248.2L570,248.2L569.8,249.9L568.4,248.5L568.9,247L569.9,246.9L570.5,244.7L569.2,244.2L567.1,244.3L564.9,243.9L564.3,242.1L563.3,242L561.3,240.8L560.8,242.6L562.7,244L561.5,245L561.1,245.9L562.6,246.6L562.4,248.2L563.5,250.2L564.2,252.3L564,253.3L562.4,253.2L559.7,253.8L560.1,255.7L559.1,257.3L556.1,259L553.9,262.1L552.4,263.8L550.3,265.5L550.5,266.7L549.4,267.3L547.4,268.3L546.4,268.4L545.9,270.4L546.7,273.8L547,275.9L546.2,278.4L546.5,282.9L545.3,283L544.4,285L545.1,285.8L543.1,286.6L542.4,288.4L541.5,289.1L539.2,286.7L537.9,283L536.9,280.4L536,279.1L534.6,276.6L533.8,273.4L533.3,271.7L530.9,268.2L529.4,263.1L528.4,259.7L528,256.6L527.3,254.1L524.2,255.7L522.6,255.4L519.3,252.2L520.3,251.3L519.5,250.3L516.6,248L517.9,246.3L522.8,246.3L522.1,244L520.7,242.7L520.1,240.7L518.5,239.6L520.5,236.8L523.1,237L524.9,234.3L525.8,231.6L527.5,229L527,227.1L528.6,225.6L526.5,224.3L525.3,222.6L524,220.3L524.8,219.2L528.3,219.8L530.6,219.4L532.1,217.2L535.3,220.3L535.6,222.4Z"/>
<path class="c3" d="M602,267L601.5,264.4L599.5,262.3L597.7,262.1L597.4,263L596.1,263.1L595.3,262.6L593.1,264.2L592.8,261.8L592.9,259.1L591.3,259L591,257.4L589.9,256.6L590.2,255.6L591.9,253.9L592.2,254.5L593.4,254.6L592.5,251.6L593.7,251.3L595.3,253.3L596.7,255.7L599.5,255.7L600.7,258L599.4,258.7L599.5,258.6L601.1,260.7L598.9,259.6L601.9,261.2L604.2,264.2L606,266.6L608,268.4L608.8,270.2L608.7,272.8L606.5,271.9L605.7,273.7L603.7,272.6L604.1,269.3Z"/>
<path class="c2" d="M598.6,272.8L601.5,272.3L603.7,272.6L605.7,273.7L606.5,271.9L608.7,272.8L609.4,274.6L609.5,277.7L605.8,279.7L607,281.3L604.6,281.5L602.7,282.5L600.7,282.2L599.7,280.8L598.2,278.1L597.4,274.9Z"/>
<path class="c1" d="M609.4,274.6L608.7,272.8L608.8,270.2L608,268.4L606,266.6L604.2,264.2L601.9,261.2L601.1,260.7L599.5,258.6L600.7,258L599.5,255.7L597.2,255.7L596.7,255.7L596.3,255.1L596.7,255.1L595.3,253.3L593.7,251.3L594.8,250.6L596.6,250.6L598.7,250.3L600.4,248.9L601.6,249.9L603.8,250.4L603.7,251.9L604.9,253L607.3,253.6L604.7,255.9L603.2,258.3L603,260.1L605.2,262.9L607.8,266.3L610.1,267.9L611.8,270L613.4,274.8L613.5,279.4L611.8,281.2L609.3,282.9L607.6,285L604.9,287.5L604,285.8L604.5,284L602.7,282.5L604.6,281.5L607,281.3L605.8,279.7L609.5,277.7ZM612.4,257.6L613.1,261.6L612,262.4L610,261.6L609.6,259.3L610.5,258.1ZM611.9,254.3L612.3,256.9L612.1,256.9L611.1,255L611.4,254.2Z"/>
<path class="c1" d="M629.5,301.6L628.7,302.6L627.6,306.2L625.7,306.7L623.5,306L622.4,306.2L621.1,307.6L619.6,307.4L618.1,307.9L616.5,306.4L616.1,304.7L617.8,305.6L619.6,305.1L620,302.9L621,302.4L623.7,301.8L625.3,299.8L626.3,298.1L627.5,299.4L627.9,298.6L629,298.6L629.1,297L629.1,295.7L630.8,293.9L631.8,291.8L632.7,291.8L634,293.2L634.2,294.3L635.7,295L637.7,295.8L637.6,296.8L636,296.9L636.5,298.2L634.9,299.1L632.9,298.7L630.2,298.7ZM596.1,295.1L597.6,294.7L598.3,293.7L598.9,293.9L600.3,295.5L601.4,297.2L601.6,299L601.4,300.2L601.6,301.1L601.8,302.6L602.7,303.3L603.6,305.7L603.6,306.6L602,306.7L599.8,304.8L597,302.7L596.7,301.4L595.3,299.6L594.9,297.5L594,296L594.1,294.1L593.6,293L594,292.6L595.9,293.7Z"/>
<path class="c2" d="M592.8,261.8L593.1,264.2L595.3,262.6L596.1,263.1L597.4,263L597.7,262.1L599.5,262.3L601.5,264.4L602,267L604.1,269.3L603.7,272.6L601.5,272.3L598.6,272.8L597.4,274.9L598.2,278.1L596.1,276.9L594.1,276.9L594.3,274.9L592.2,274.9L592.3,277.8L591.4,281.6L590.9,283.9L591.2,285.8L592.7,285.9L593.8,288.2L594.3,290.5L595.7,292L597.1,292.3L598.3,293.7L597.6,294.7L596.1,295.1L595.9,293.7L594,292.6L593.6,293L592.6,292L592.2,290.7L590.8,289.3L589.6,288L589.4,289.6L588.8,288.1L589,286.5L589.5,284L590.4,281.3L591.5,278.9L590.3,276.5L590.2,275.3L589.8,273.8L588.1,271.7L588.7,267.7L587.5,265.9L587.1,265.5L584.4,261.7L585.3,261.3L585.9,258.4L587.5,258.3L588.6,257.2L589.9,256.6L591,257.4L591.3,259L592.9,259.1Z"/>
<path class="c0" d="M637.1,209.9L636.6,209.9L637.9,209.1L641.3,212.2L642.6,213.9L644,216.9L643.8,218.3L642.1,218.8L640.8,219.9L639,220.1L638.1,218.7L637.6,216.7L635.5,214L636.9,213.6L634.3,211.3L634.4,211.1L634.7,211.1L635.5,210.6L635.4,211.2L635.6,210Z"/>
<path class="c1" d="M629.9,202.6L630.4,200.8L631.8,201.6L633.7,201.7L632.6,200.3L635.2,199.2L635.2,197.7L637.4,199.3L638,199.7L637.1,199.6L636.7,200.5L636.6,201.3L637.7,203.2L636.9,203.8L636.8,204.2L636.4,205L635.2,205.4L634.6,206.1L635.2,207.2L635.1,207.5L636.1,208L637.9,209.1L636.6,209.9L635.6,210L635.5,210.6L634.7,211.1L634.4,211.1L634.3,211.3L633.1,210.8L633,211.3L632.5,211.5L632.2,211L631.5,210.8L630.8,210.4L630.8,209.3L631.1,208.9L630.7,208.5L630.6,207.1L630.2,206.6L628.8,206.4L627.5,205.7L628.3,204Z"/>
<path class="c1" d="M613.1,261.6L612.4,257.6L610.5,258.1L612.9,257.4L614.2,257.5L614.9,258.5L614.1,259.6L613.8,261.1ZM596.7,255.1L596.3,255.1L595.3,253.3ZM545,185.2L547.5,186.3L549.1,187.7L549.6,190.7L550.9,191.8L553.5,192.3L556.5,192.6L559.7,194.2L561.1,194.5L563.1,196.9L565.1,198.4L567.3,198.4L571.9,199L574.6,198.6L576.8,199L580.6,200.5L583.2,200.5L584.5,201.3L586.3,200L589.2,199.1L592.3,199L594.3,198.1L595.1,196.7L596.1,195.8L595.4,195L594.2,194L594.3,192.4L594.4,192.3L595.6,192.5L598,193.1L599.3,191.7L601.9,190.7L602.5,189L603.5,188.3L606.2,187.9L608,188.2L607.7,187.3L604.8,185.5L602.6,184.7L601.7,185.7L599.4,185.3L598.4,185.6L597.3,184.5L597.2,182L597,180.1L600,181.1L601.8,179.5L601,178.4L601,175.7L601.5,174.9L600.4,173.5L598.9,172.9L599.6,171.7L601.7,171.2L604.2,171.2L607.8,171.9L610.2,172.8L613.3,175.3L614.9,176.4L616.7,178L619.2,180.4L623.3,181.2L626.9,183L629.3,185.4L632.4,185.4L633.5,184.4L636.3,183.7L636.8,186L636.7,186.9L637.9,189.7L638.1,192.2L635.3,191.7L634.1,192.6L636.1,194.9L637.7,197.9L636.6,198L637.4,199.3L635.2,197.7L635.2,199.2L632.6,200.3L633.7,201.7L631.8,201.6L630.4,200.8L629.9,202.6L628.3,204L627.5,205.7L624.9,206.4L623.9,207.6L621.9,208.3L622.5,207.1L621.6,206.1L622.4,204.4L620.5,203L619.2,204L617.7,205.7L617.2,207.4L615.1,207.6L614.6,208.8L616.5,210.5L618.5,210.9L619.1,212.1L621.1,212.9L622.7,211L625.1,212L626.5,212.1L627.5,213.5L624.7,214.2L624.3,215.6L622.8,216.9L622.4,218.7L625.3,220.2L627.2,222.7L629.4,225.1L631.7,227.1L632.3,229.1L631.1,229.8L632.1,231.2L633.7,232L634,234.1L634.1,236.2L632.9,236.4L632.1,239.3L631.2,242.7L629.8,245.8L627.2,248.2L624.5,250.4L622,250.7L620.8,251.9L619.9,251L618.8,252.3L615.9,253.6L613.6,254L613.3,256.8L612.1,256.9L612.3,256.9L611.9,254.3L611.4,254.2L611.5,254L608.3,253.2L607.3,253.6L604.9,253L603.7,251.9L603.8,250.4L601.6,249.9L600.4,248.9L598.7,250.3L596.6,250.6L594.8,250.6L593.7,251.3L592.5,251.6L593.4,254.6L592.2,254.5L591.9,253.9L591.6,252.8L590.1,253.6L589,253.1L587.2,252.1L587.5,250L586,249.5L585.1,247.1L582.7,247.5L582.5,244.4L584.2,242.2L583.8,240.1L583.3,238.1L582.2,237.4L581.1,235.9L579.8,236.1L577.3,235.7L577.8,234.6L576.4,233L575.1,234.1L573.1,233.4L570.9,235.1L569.3,237L567.6,237.4L566.5,236.7L565.3,236.6L563.5,236L562.5,236.7L561.4,238.6L560.8,236.5L559.5,237.1L556.9,236.9L554.2,236.3L552.2,235.1L550.4,234.6L549.4,233.3L548,233L545.4,231.2L543.5,230.5L542.7,231.1L539.2,229.3L536.7,227.6L535.4,224.7L537.1,225.1L536.8,223.7L535.6,222.4L535.3,220.3L532.1,217.2L528.2,216.2L527.1,214.1L525.1,212.9L524.5,212.2L523.8,210.7L523.6,209.7L522.1,209.1L521.9,209.2L520.8,208.1L520.3,207L520.7,206.4L520.2,205.8L520.3,205.7L521.9,204.5L523.2,204L525.5,204.4L525.8,202.7L528.4,202.4L528.8,201.4L531.6,200L531.7,199.4L531,197.9L532.2,197.3L528.6,192.8L532.3,191.7L533.1,191.2L532.7,186.6L537.1,187.4L537.7,186.3L536.7,183.7L538.3,183.5L539,181.8L539.7,181.6L541.1,183.4L543.4,184.7Z"/>
<path class="c1" d="M403.7,196.2L403.8,196.8L404.2,197.2L403.8,196.8L403.2,196.4ZM407.5,192.1L406.2,191.5L405.9,190.7L404.7,189.7L405.7,189.4L405.3,190L408.6,192.6L409.4,193.6L409.1,193.9L407.8,193.2ZM422.3,191.8L421.3,191.3L422.8,191.6L423.3,191.4ZM419.3,186.4L420.4,187.6L420.9,189.5L420.8,190.2L420.8,190.1L419.2,186.4L419.5,186.6ZM407.2,169L403.6,169L401.2,168.7L401.5,167.7L404.1,166.9L406.1,167.3L407,167.7L406.9,168.4ZM68.4,141.2L65.3,142.2L62.1,142.4L58.9,144.7L57.6,145.2L56,145.1L55.8,144.3L54.4,143.6L55.4,142.6L54.2,142.3L51.8,142.6L52,141.8L53.6,140.9L50.7,141.5L49.9,142.5L47.6,143.5L61.1,134.5L62.6,136.2L63.7,138.4L61.5,139.8L61.9,140.4L63.9,138.8L68,139.1ZM72.6,129.8L70.1,130.3L67.7,130.4L70.2,129L73.3,129.5ZM430,111.1L426.8,111L429.4,110.7L431.5,110.7L432.1,111.2L432.7,110.8L433.8,110.5L436.2,110.8L435.8,111.1L434,111.3L432.8,111.4L432.8,111.7L431.4,112L429.5,111.6ZM514.7,202L515.1,202.5L515.9,202.4L514.9,201.9L517.8,203.2L515.6,205.1L514,204.9L513.1,204.9L513.3,204.9L515.5,202.9ZM508.6,203.7L507.8,203.8L506.9,202.5L507.6,203.5L508.7,203.4ZM547.5,186.3L545,185.2L546.7,185.7L549.1,187.7ZM654.8,182.4L651.2,181.6L652.7,185.3L656.6,187.9L657.8,189.6L655.2,188.1L655.2,190.1L653.3,187.9L651.8,185.5L649.5,182.7L648.5,180.8L645.9,177.4L642.7,174.9L639.9,171.6L640.7,170.4L638.9,169.2L639.4,168.9L641.4,170.6L644.3,172.9L646.3,175.4L649.3,177.9ZM415,133.2L416.5,132.4L419.6,133.8L424.3,134.3L431.5,136.8L433.2,137.9L433.9,139.4L432.3,140.5L429.7,141.2L421.5,139.4L420.3,139.7L423.6,141.4L424,142.4L424.8,144.8L427.2,145.5L428.8,146.1L428.7,145L427.4,144L428.2,143.1L432.9,144.6L434.2,144L432.5,142.3L435.8,140.1L437.4,140.2L439.3,141L439.7,139.4L437.8,138.1L438.2,136.8L436.4,135.4L441.4,136.1L442.9,137.3L440.8,137.6L441.3,138.9L442.9,139.6L445.4,139.2L445.3,137.7L448.4,136.7L453.4,134.7L454.7,134.9L453.7,136.2L455.9,136.4L456.7,135.7L459.9,135.6L461.9,134.7L464.5,136L465.7,134.6L463.2,133.3L463.7,132.6L469,133.2L471.7,133.9L479.3,136.5L479.7,135.3L477.3,134.1L477,133.6L474.8,133.4L474.8,132.4L472.8,130.7L472.3,130L474.1,128.1L473.8,126.2L474.7,125.7L479.4,126.3L480.5,127.5L480.2,129.2L481.7,129.9L483.3,131.4L484.8,134.4L487.6,135.7L487.8,137.2L486.3,140.4L488.5,140.8L488.7,140L490.2,139.4L490,138.3L490.8,137.2L489,135.9L488.9,134.5L486.9,134.3L485.7,133L485.6,130.9L482.2,129.1L484.1,127.7L482.6,126.2L483.4,126.1L485.1,127.3L485.9,129.3L488,129.8L486.1,128.2L488.2,127.4L491.4,127.3L495.4,128.5L492.5,126.7L490.6,124.5L493,124.1L496.8,124.1L500,123.9L497.8,122.8L498.3,121.4L500,121.4L502,120.4L505.8,120.1L505.7,119.6L509.5,119.4L511.3,119.8L513.5,118.8L516.4,118.8L515.8,118L516.2,117.2L518.7,116.4L522.1,117L520.6,117.5L524.4,117.8L526.1,118.7L526.9,118.3L531.3,118.3L536,119.2L538.2,120L539.2,121L538.2,121.6L535.5,122.8L535,123.4L537.3,123.7L540.2,124.2L541.2,123.8L543.6,125.1L543.6,124.6L545.8,124.3L551.3,124.6L552.8,125.6L559.9,125.9L558,124.3L561.8,124.7L564.3,124.6L568.3,125.7L570.8,127.1L571,128L575.1,129.7L578.7,130.5L577.5,128.3L581.3,129.2L583.3,128.7L587.4,129.3L587.8,128.7L590.8,129L587,127L587.8,126.1L604.3,127.5L607.5,128.8L614.2,130.4L620.2,130L624,130.4L626.7,131.3L628.8,132.9L631.7,133.5L633.3,133L636.2,133L640,133.4L642.8,133.2L648.6,135.1L649.6,134.4L646.2,133L645.4,132L651.7,132.6L654.9,132.5L661.3,133.6L665.2,134.5L678.7,143.5L677.9,144.5L675.4,144.3L678.7,145.6L682.5,147.5L684.2,148.1L685.7,149.1L686.1,149.7L682.1,149.2L679.4,151L678.1,151.3L677.5,152.9L676.7,154.4L677.4,155.5L672.7,153.8L670.2,155.7L668.3,154.8L667.7,155.8L664.9,155.5L666.1,157.1L666.6,159.4L667.8,160.4L670.5,160.9L674.2,164.5L672.6,164.6L673.9,166.6L675.9,167.7L673.8,169L676,171.8L673.7,172.4L675.5,174.9L674.8,177.3L672.5,175.5L668.2,171.9L661.6,166.4L659,163L659.1,161.6L658,160.4L660.3,159.9L660.2,156.8L660.4,154.4L661.5,152.5L658.8,149.1L656.8,149.3L658.2,151.3L656.7,153.9L651.7,151L648,151.8L648,155.8L651.2,157.2L647.7,157.9L645.1,158.1L643.3,156.4L640,156L639,157.2L632.9,156.8L627.5,157.5L626.1,162.2L624.1,168L627.4,168.3L629.7,169.9L632.1,170.4L632.2,169.2L634.5,169.3L639.7,172.1L641.6,174.2L642.2,176.7L644.4,179.7L646.5,183.8L646.1,187.4L646.7,189.2L645.9,192.2L645.1,195.2L644.7,196.7L642.9,198.2L641.6,198.2L639.5,197L637.8,198.9L638,199.7L637.4,199.3L636.6,198L637.7,197.9L636.1,194.9L634.1,192.6L635.3,191.7L638.1,192.2L637.9,189.7L636.7,186.9L636.8,186L636.3,183.7L633.5,184.4L632.4,185.4L629.3,185.4L626.9,183L623.3,181.2L619.2,180.4L616.7,178L614.9,176.4L613.3,175.3L610.2,172.8L607.8,171.9L604.2,171.2L601.7,171.2L599.6,171.7L598.9,172.9L600.4,173.5L601.5,174.9L601,175.7L601,178.4L601.8,179.5L600,181.1L597,180.1L594.7,180.3L593.1,179.5L591.7,179.2L589.9,181L587.5,181.4L586.1,182L583.3,181.6L581.4,181.6L579.5,180.4L576.8,179.1L574.6,178.8L572.2,179.1L570.6,179.6L567.2,178.5L565.7,176.7L563,176L561,175.7L558.2,174.7L557.6,177.3L559.3,178.8L558.3,180.5L555,179.9L553,179.8L551,178.6L548.9,178.6L546.8,177.8L544.4,179L541.6,181.2L539.7,181.6L539,181.8L537.2,180.3L534.8,180.6L533.5,179.5L531.8,179L530.2,177.6L528.8,177.1L526.3,177.8L522.9,176.3L522.4,177.7L515,171.3L511.6,169.4L511.9,168.6L508.2,170.9L506.4,171.1L505.9,169.7L503,168.9L501.3,169.5L499.5,166.9L495.8,166.4L494.5,167.4L490.1,168.3L489.4,168.9L482.5,169.8L481.9,170.7L484,172.3L482.3,173L483,173.7L481.5,174.9L485.4,176.6L485.3,177.8L482.4,177.7L482.1,178.4L479.1,177.2L476,177.2L474.2,178.3L471.5,177.2L466.6,175.5L463.6,175.6L460.2,178.3L460.5,180.2L458.1,178.7L457.2,181.4L457.9,182L457.2,183.9L459.3,185.6L460.8,185.6L462.5,187.2L462.7,188.6L463.8,189L463.2,190.5L461.4,190.9L459.9,193.6L462.3,196L462.5,197.7L465.5,200.8L464.4,201.8L464.2,202.5L463.2,202.3L461.5,200.7L460.8,200.7L459.4,200.1L458.6,199L456.5,198.5L455.3,198.9L454.8,198.4L451.7,197.2L448.6,196.7L446.7,196.3L446.5,196.6L443.5,194.4L440.9,193.4L438.9,192L440.3,191.5L441.6,189.4L441.1,189L441.4,188.7L441.3,188L440.3,188.4L443.1,187.3L442.9,186.8L441.2,187.2L441,186L441.9,185.3L443.8,185.2L444,184.3L443.2,182.9L443.8,181.6L443.6,180.8L440.5,180L439.3,180L437.8,178.9L436.4,179.2L433.7,178.4L433.6,177.9L432.7,176.8L431,176.7L430.7,175.9L431.1,175.4L429.6,173.9L427.6,174.2L427,174.1L426.6,174.6L425.8,174.5L425,172.9L424.4,172.1L424.7,171.9L426.3,172L427,171.4L426.3,170.8L424.9,170.3L424.9,169.9L424,169.4L422.5,167.8L422.8,167.1L422.3,166L420.4,165.4L419.4,165.7L419,165.1L416.9,164.5L416,163L415.6,161.8L414.6,161.3L415.3,160.5L414.3,158.3L415.3,156.9L415,156.4L416.8,155.1L414.6,154L417.9,151L419.2,149.6L419.6,148.4L416.6,146.8L416.9,145.3L414.9,143.6L415.7,141.6L413,139L414.2,137.3L411.2,135.9L411.1,134.3L412.4,134.1ZM658.6,130.4L657,130.5L655.5,129.9L656,129ZM587.3,124L590.7,124.8L591.7,125.4L589.3,125.4L585.7,125.2L585.3,125.1L585.6,124.2ZM450.4,129.6L447.2,129.1L446.4,127.9L447.8,127.4L447.1,126.3L449.3,124.5L447.7,124.3L450.4,122.4L449.4,121.5L452.2,120.5L456.4,119.2L461.2,118.8L463.2,118.1L466,117.8L467.7,118.6L467.1,119.2L462.5,120.2L458.4,121.2L454.9,123.1L453.7,125.1L452.3,127.2L453.6,128.9L457.7,130.7L456.8,130.9L451.3,130.6ZM588.8,120.7L592.2,121L597,121.5L596.5,122.3L593.7,122.1L589.5,121.3ZM575.1,121.2L573.8,119.8L575.2,119.4L579.4,119.5L586.7,120.6L587.8,122.1L582,122L580.2,122.5ZM511.2,113.2L512.4,113.4L517.6,114.4L518.2,115.2L510.8,115.9L510.3,113.5ZM498.2,113.1L495.5,111.8L493.1,111.4L495.4,110.3L497.9,109.9L501.8,110.8L507.3,112.4L509.2,114.1L506.3,114.3L501.6,113.8Z"/>
<path class="c2" d="M304.1,106.8L308.8,106.9L310.9,106.3L315.8,106.2L326.5,106.4L334.6,107.6L331.8,108.2L326.5,108.2L319,108.4L319.6,108.7L324.6,108.5L328.6,109L331.4,108.6L332.4,109.1L330.5,110.1L334.3,109.5L341.2,108.9L345.3,109.2L346,109.9L340,111L339.1,111.4L334.5,111.7L337.8,111.8L335.8,113.1L334.3,114.4L333.8,116.5L335.3,117.7L332.9,117.8L330.3,118.4L332.8,119.5L332.8,121.2L331.1,121.4L332.8,123.1L329.2,123.3L330.9,124.1L330.2,124.9L327.9,125.2L325.7,125.2L327.4,126.6L327.2,127.6L324.2,126.7L323.2,127.2L325.3,127.8L327.1,129.1L327.4,130.8L324.3,131.2L323.3,130.4L321.5,129.2L321.7,130.6L319.6,131.7L323.9,131.8L326.1,132L321.3,133.9L316.3,135.6L311.2,136.4L309.3,136.4L307.3,137.2L304.3,139.6L300.1,141.2L298.9,141.3L296.4,141.9L293.7,142.4L291.7,143.8L291.2,145.4L289.8,147L286.3,148.8L286.4,150.7L284.9,152.6L283.3,154.9L280.6,155.1L278.6,153.2L274.9,153.1L273.6,151.8L273.3,149.5L271.3,146.6L271.1,145.1L271.7,143L270.2,140.9L271.5,139.3L270.7,138.5L273.6,135.9L276.5,135L277.6,134.1L278.7,132.4L276.5,133.2L275.4,133.5L273.8,133.8L272.1,133.1L272.7,131.6L273.9,130.5L275.5,130.4L278.5,131L276.4,129.6L275.3,128.9L273.5,129.2L272.4,128.7L275.3,126.7L274.8,125.9L274.3,124.5L273.7,122.3L272.2,121.5L272.8,120.6L269.5,119.5L266.4,119.3L262.2,119.4L258.4,119.6L257.1,118.9L255.5,117.7L260,117.1L263.1,117L257.2,116.5L254.5,115.7L255.4,115L261.8,114.1L267.9,113.2L269.1,112.5L265.8,111.8L267.7,111.1L273.6,110L275.8,109.8L275.9,109.1L279.5,108.7L284,108.4L288.3,108.4L289.4,108.9L293.7,108L296.6,108.6L298.5,108.7L301,109.3L298.3,108.4L298.9,107.7Z"/>
<path class="c1" d="M222.8,267L223.3,267.6L222.7,268.2L222.3,267.6Z"/>
<path class="c1" d="M223.1,269.3L223.4,269.7L223,270.1L222.7,269.7Z"/>
<path class="c1" d="M223.8,271.1L224.2,271.7L223.7,272.2L223.3,271.7Z"/>
<path class="c1" d="M223.7,273.2L224,273.6L223.7,274L223.3,273.6Z"/>
<path class="c1" d="M223.1,275L223.3,275.3L223,275.6L222.7,275.3Z"/>
<path class="c1" d="M226.8,275.2L227.1,275.6L226.8,276L226.5,275.6Z"/>
<path class="c1" d="M221.7,278L222,278.3L221.7,278.7L221.4,278.3Z"/>
<path class="c1" d="M222.4,264.9L222.7,265.3L222.4,265.6L222.1,265.3Z"/>
<path class="c1" d="M215.9,261.7L216.2,262.1L215.8,262.5L215.5,262.1Z"/>
<path class="c2" d="M307.4,271.5L306.9,271L307.4,270.5L307.9,271ZM309.9,270.5L309.2,271.3L308.6,270.5L309.3,269.7ZM311.7,267.9L311.1,268.5L310.6,267.9L311.2,267.2ZM308.5,266.6L308,267.1L307.5,266.6L308,266ZM310.6,266.2L311,265.7L311.4,266.2L310.9,266.6ZM305.3,265.4L306,264.7L306.6,265.4L305.9,266.1Z"/>
<path class="c0" d="M106.9,178.5L107.5,177.9L109.2,178.4L110.1,178.8L111.8,179.1L111.9,179.9L112.1,181.1L113.4,182.2L113.3,183.6L112.1,184L109.5,182.8L109.5,181.9L108.3,181L108.4,180.3L106.7,179.8ZM104.5,172.3L104.6,174.3L103.8,174.3L103.6,173.2L103.8,172L103.4,171.3L104,170.2L104.8,169.4L105.4,169.7L107.4,169.5ZM141.5,133.3L145.1,132.4L148.4,131.8L148.5,132.7L150.3,132.2L151.9,131.2L152.8,131.4L153.4,133.4L157.2,131.9L155.6,133.6L158,133.2L159.4,132.5L161.3,132.7L162.8,133.6L165.9,134.4L167.8,134.8L169.6,134.6L170.8,135.8L167.3,136.9L169.9,137.3L174.8,137.1L176.6,136.7L177.1,138L180,136.9L179.2,136L181,135.2L183.1,135.1L184.7,134.9L185.5,135.4L186.2,136.6L188.2,136.4L190.3,137.4L193.3,137.1L195.7,137.1L196.7,135.8L198.5,135.4L200.5,136.1L198.8,138.2L201.3,136.5L202.6,136.5L205.2,134.3L204.6,132.9L203.4,132L205.6,129.7L209,128.1L210.8,128.4L211.6,129.4L211.7,131.8L209.4,132.9L212.1,133.3L210.3,135.6L213.9,133.9L214.9,135.3L213.1,136.9L213.6,138.4L216.6,136.8L219.2,134.9L221.1,132.5L223.4,132.7L225.6,133L227.1,134.1L226.4,135.2L224.3,136.4L224.7,137.6L223.7,138.7L219.2,140.2L216.6,140.6L215.3,139.9L214,141L210.9,143L209.7,144L206.6,145.5L203.9,145.7L201.8,146.7L200.6,148.2L198.4,148.5L194.8,150.4L191,153L189,154.9L186.9,157.7L189.4,158.1L188.8,160.4L188.5,162.2L191.4,161.7L194.3,162.8L195.6,163.7L196.3,164.9L198.3,165.6L199.8,166.6L202.9,166.7L204.8,167L203.4,169.1L202.7,171.6L202.7,174.4L204.5,176.8L206.4,176L208.7,173.4L209.6,169.5L208.9,168.1L212.6,167L215.6,165.3L217.6,163.6L218.3,161.9L218.1,159.9L216.8,158.1L220.4,155.5L220.9,153.4L222.4,149.7L224,149.1L226.7,149.8L228.4,150L230.3,149.4L231.5,150.2L233,151.5L233.1,152.5L236.2,152.7L235.1,154.7L234.2,157.7L235.7,158.1L236.4,159.5L239.7,158.1L242.8,155.5L244.5,154.4L245,156.5L246,159.6L246.8,162.5L245.4,164L247.4,165.4L248.6,166.8L251.4,167.5L252.3,168.2L252.3,170.4L253.7,170.7L254.2,171.6L253.4,174.4L251.6,175.4L249.9,176.2L246.3,177.2L243.1,179.2L239.6,179.6L235.5,179.1L232.5,179.1L230.4,179.2L228,181.1L225.1,182.2L220.9,185.6L217.8,187.9L219.6,187.5L224.1,184.1L229.1,182L232.2,181.8L233.5,183L231,184.7L230.8,187.5L230.8,189.4L233.1,190.7L236.6,190.3L239.5,187.4L239.1,189.3L240.2,190.2L237.1,191.9L232.1,193.4L229.7,194.4L226.8,196.3L225.5,196.1L226.2,193.9L226.2,193.8L225.9,193.9L230.1,191.8L226.8,191.9L224.4,192.2L223.6,190.8L224.7,187.3L224.1,186.6L222.6,187L222.1,186.3L219.9,188.2L218.6,190.2L217.4,191.4L216.4,191.8L215.7,191.9L215.3,192.5L208.3,192.6L207.2,193L204.3,194.9L204,195.1L203,196.1L199,196.1L197.9,196.5L198.1,197L198,197.8L197.8,198.1L194.6,199.3L192.3,199.8L189.4,201.1L188.8,201.1L188.3,200.7L188.2,200.4L188.3,200.1L189.1,199.2L190.6,197.8L191.8,196.2L192.3,194L192.8,191.7L191.1,190.5L191.6,190L191.4,189.7L190.8,189.7L190.6,189.3L190.8,188.7L190.2,189L189.7,188.9L190,188.6L189.6,188.4L189.7,187.7L188.4,186.9L187.2,186L185.6,185.1L184.1,184.1L182,184.8L181.3,184.9L179.1,184.2L177.3,184.5L175.7,183.8L173.9,183.3L172.1,182.8L172.5,181.4L171.8,181.4L171.3,182.4L115.5,182.4L115.2,182.4L113,179.9L112.3,178.8L109.5,177.7L110,175.5L111.5,174L109.8,172.9L111,170.9L110.2,169.1L111.2,167.8L113.3,166.6L114.6,165.1L112.7,163.5L113.3,160.8L113.7,159L113.1,157.9L112.8,156.9L113,155.7L110.4,156.5L107.3,157.8L107.2,156.2L106.9,155.2L105.8,154.5L104.1,154.4L128.6,132.9L131,133.4L132.4,134.5L133.9,134.7L136.5,133.7L139.3,133ZM201.2,135L199.5,134.3L197.9,134.5L196.5,133.6L198.6,132.9L200.6,131.9L201.8,132.5L202.4,132.9L202.6,133.4L202.9,134.2ZM174.9,130.9L171.2,131.1L168.9,131.1L168.9,130.3L173.7,129.4L171.1,129.4L168.9,128.9L172.2,127.3L174.3,126.4L180,125.2L181.2,125.6L179.2,126.6L183.5,125.9L184.6,127L187.6,125.9L188.3,126.6L187.4,128.7L189.1,127.8L190.3,125.6L192,125.3L193.3,125.7L194.1,126.5L193,128.6L192,130.1L193.7,131.2L195.8,132.2L194.7,133.2L191.8,133.3L192.1,134.2L190.8,135L188.1,134.6L185.8,134L183.7,134.2L179.8,134.9L175.3,135.3L172.1,135.5L172.2,134.4L170.5,133.8L168.8,134.1L168.5,132.3L169.9,132.1L172.8,131.7L175,131.8L177.6,131.4ZM206,128.7L202.6,129.5L201.2,129.3L200.9,128.5L198.5,126.9L199.2,126.2L202.2,126.4L201.8,125.1L204.7,124.1L206.2,124.5L209.3,124.2L209.1,124.8L206.6,125.8L208.1,126.8ZM163.9,125.8L167.1,124.4L167.2,123.1L172.9,122.8L174.6,123.2L178.5,123.3L179.3,123.9L179.9,124.8L177.3,125.4L171.6,126.8L167.9,128.3L166.8,129.3L161.3,130.3L161.5,129.3L159.1,128.2L160.9,127.3ZM201,119.7L200.1,120.7L198,121.7L192.4,122L187.4,122.9L185,122.9L185.6,122.3L189.9,121.4L182.6,121.6L180.9,121.2L185.6,119.3L187.8,118.7L191.2,119.4L192.4,120.6L194.9,120.7L195.1,118.8L197.4,118.1L198.7,118.3L198,119.3L197.7,120L199.5,119.7ZM205.2,120.6L207,119L208.5,119.1L211.6,118.4L213.6,118.5L214,118.3L214.1,119.2L213,120.2L210.7,121.7L207.9,121.9L206.6,121.6L207.9,120.4ZM187.3,116.7L189.8,116.5L187.5,117.9L185.3,118.6L183.8,118.7L179.8,119.6L176.9,119.9L175.5,119.4L180.1,118L185.1,116.7ZM195.4,116.9L194,116.3L196.1,115.7L198.5,115.5L200.2,115.8L198.9,116.4ZM220.7,114.2L221.5,114.3L222.4,115L221.1,115.7L218.5,116.1L217.8,115.6L218.1,114.9L219,114.1ZM208.1,115.1L210.3,114.5L209.2,114L210.1,113.3L212.6,113.6L215.6,114.3L215.5,115.2L215.1,116L212.9,115.7L211.3,115.1ZM200.1,114.2L200.7,114.3L202.1,114.6L199.8,115L197.3,115L197.7,114.7ZM234.7,189.9L233.9,190.1L231.6,189L231.4,188.1L232.4,187.3L232.7,188.6L234.1,188.9L236,188.9ZM253.5,175.8L252.9,176.5L251.3,178.1L249.2,180.3L250.8,179.4L252,180L251,180.9L252.6,181.6L253.7,180.9L255.5,181.7L254.3,183.6L255.9,183.1L255.8,184.5L256,186.1L254.5,188.3L253.6,188.4L252.3,187.9L253.4,185.8L252.9,185.5L249.9,187.8L248.7,187.7L250.5,186.5L248.7,185.8L246.5,186L242.5,185.9L242.5,185.2L244,184.3L243.3,183.6L245.5,182L248.9,178L250.6,176.6L252.6,175.7ZM238.7,181.6L238.6,182.1L237.6,182.1L235.3,181.3L233.8,180.2L234.6,179.9L237,180.6ZM217.9,150.4L218.1,150.2L219.2,149.5L219.9,149.6L220.1,150.1L218.6,151.3L218,151.1ZM212,149.4L214,148.3L216.5,148.3L216.2,148.8L213.2,150.1L212,150ZM214.9,141.9L214.5,142.9L215.7,142.6L216.3,143.2L217.7,144L219.2,144.7L218.7,145.8L220.1,145.6L220.9,146.4L218.8,147.1L216.4,146.6L216.1,145.5L213.5,146.8L210.2,148L210.5,146.6L207.9,146.8L210.3,145.7L211.7,143.9L213.8,141.8ZM233.2,138.6L231.2,138.7L231.5,137.6L233,136.3L234.8,136L235.7,136.6L235.1,137.6L234.7,137.9ZM250.7,132L251,134L247.3,135.1L250.5,136.5L252.9,137L254.3,139.1L256.9,139.2L255.5,140.8L251.1,143.4L249.5,142.5L247.9,140.3L245.5,140.6L244.6,141.9L245.7,143.2L247.5,144.3L247.9,144.9L247.9,147.2L246.4,148.9L244.5,148.2L241,146.3L242.4,148.4L243.6,149.8L243.5,150.6L239.1,149.7L235.9,148.3L234.4,147.2L235.4,146.5L233.4,145.3L231.5,144.2L231.1,144.9L225.8,145.2L224.8,144.4L227,142.7L230.4,142.7L234.1,142.4L234,141.6L235.3,140.5L238.9,138.3L239,137.3L238.9,136.5L237,135.4L234,134.7L235.5,134.1L234.6,132.7L233.3,132.6L232.5,131.9L231.1,132.5L227.9,132.8L222.3,132.3L219.2,131.7L216.8,131.3L216.1,130.6L218.6,129.6L216.3,129.6L217.7,127.4L220.6,125.6L223,124.7L227.6,124.2L225.3,125.5L225.4,126.8L228.3,125.1L233,124.3L234,126.4L232.6,127.8L236.3,127.2L238.5,126.4L241.2,127.4L242.7,128.4L242.3,129.4L245.6,128.9L246.4,130.2L249.8,131.1ZM213.9,126.3L210.7,127.9L208.9,127.8L209.7,126L210.8,124.9L212.4,124L214.6,123.5L217.8,123.5L220.3,124L216.2,125.9ZM214.4,120.9L217.2,120.4L217.8,121.1L216,122.5L213.9,122.4L212.6,121.8ZM216.2,118.2L217.7,117.4L220.7,117.5L221.6,118.1L224.6,118.1L225.2,118.8L224.1,119.5L225.4,120L225.8,120.5L227.8,120.5L229.9,120.7L232.8,120.3L236.1,120.1L238.4,120.3L239.4,121L239,121.8L237.6,122.4L234.8,122.8L233.1,122.6L228.3,122.9L225,122.9L222.8,122.7L219.3,122L219.9,120.9L220.7,119.9L220.1,119L217.2,118.8ZM219.7,116.1L222.7,116.1L223.3,116.5L222.9,116.7L222.1,116.8L219.5,116.6ZM243.1,117.8L245.8,117.7L245.3,118.1L240.2,119.3L236.7,118.8L231.9,119.1L229.9,118.9L227.1,118.8L228,117.8L231.2,117.4L232,116L233.1,115.8L236.2,116.7L235.5,115.4L233.5,115.1L235.5,114.3L238.6,113.9L239.8,113.2L238.6,112.5L239,111.6L242.8,111.7L243.8,111.9L246.7,111.2L243.7,111L238.6,111.1L236.8,110.6L236.5,109.9L235.4,109.4L235.8,108.9L238.3,108.6L240,108.5L243,108.3L245.8,107.7L247.4,107.8L248.3,108.2L250.4,107.4L252.5,107.1L255.1,107L259.4,106.9L259.9,107.1L264.1,106.8L267,106.9L269.8,107L273.3,107.1L276.1,107.3L278.2,107.7L277.8,108.1L273.8,108.8L270.1,109.1L268.5,109.5L271.6,109.5L267.3,110.5L264.6,111L260.7,112.4L257.5,112.7L256.2,113.1L251.6,113.3L253.3,113.5L252,113.9L252.3,114.8L250.2,115.4L247.4,116L246,116.7L243.3,117.3ZM228.5,110.5L230.1,110.4L230,110L233.4,109.9L234,110.8L236,111.2L237.9,111.5L237.6,112.7L238.7,113.3L236,113.8L231.7,115.2L228.9,115.4L226.1,115.1L225.5,114.4L226.4,113.7L228.1,113.2L225.5,113.2L224.7,112.6L224.9,111.8L226.8,111Z"/>
<path class="c0" d="M9.6,255.3L10.1,255.7L9.8,256L9,256.2L8.8,255.6L8.6,255.4L8.6,255.2L8.9,255ZM8.6,254.6L8.5,254.9L7.3,254.8L7.5,254.5ZM6.1,253.2L6.3,253.4L6.7,254.2L6.5,254.4L6.4,254.3L5.6,254.3L5.5,253.7L5.4,253.6ZM3.4,251.9L3.3,252.5L3,252.8L2.3,252.3L2.5,252.1L2.9,251.8ZM57.8,155.4L56.2,155.8L55.5,155.3L55.2,154.7L57.5,154.3L58.7,154.5ZM58.9,147.2L57.2,147.3L57,147.1L58.3,146.3L58.8,146.7L60.2,146.5L60.8,147.1L62.2,147.4L61.7,147.6L59.7,148.1L59,147.6ZM213.4,263L211.7,263L210.4,263L210.3,261.9L210.7,261.5L212.5,261.6L213.7,261.8L214,262.3ZM9.9,257.2L10.1,257L10.2,257L11,257.5L11.4,257.7L11.6,258L12,259L11.9,259.1L10.9,259.7L10.1,260.1L9.6,260.5L9.1,260.1L9.4,259.4L9.3,258.5L9.4,258.2L9.9,257.7ZM177.3,184.5L179.1,184.2L181.3,184.9L182,184.8L184.1,184.1L185.6,185.1L187.2,186L188.4,186.9L189.7,187.7L189.6,188.4L190,188.6L189.7,188.9L190.2,189L190.8,188.7L190.6,189.3L190.8,189.7L191.4,189.7L191.6,190L191.1,190.5L192.8,191.7L192.3,194L191.8,196.2L190.6,197.8L189.1,199.2L188.3,200.1L188.2,200.4L188.3,200.7L188.8,201.1L189.4,201.1L192.3,199.8L194.6,199.3L197.8,198.1L198,197.8L198.1,197L197.9,196.5L199,196.1L203,196.1L204,195.1L204.3,194.9L207.2,193L208.3,192.6L215.3,192.5L215.7,191.9L216.4,191.8L217.4,191.4L218.6,190.2L219.9,188.2L222.1,186.3L222.6,187L224.1,186.6L224.7,187.3L223.6,190.8L224.4,192.2L224.5,193.1L221.9,194.3L219.5,195.2L217,196L215.4,197.5L214.9,198.1L214.4,199.4L214.6,200.8L215.5,200.9L215.6,199.9L216,200.5L215.6,201.2L214.1,201.6L213.1,201.6L211.4,202.1L209.1,202.3L207.1,203.1L210.4,202.6L210.9,203.1L207.7,203.8L206.3,203.8L205.6,204.3L206.2,204.4L205.2,206.2L203,208.2L202.6,207.4L202.1,206.8L202.2,208.2L202.6,208.7L202.3,209.6L201.3,210.6L199.5,212.7L199.4,212.6L200.5,210.8L199.7,209.8L200.1,207.7L199.4,208.8L199.3,210.5L198,210.1L199.3,210.9L198.6,213.4L199.2,213.5L199.2,214.5L198.8,217.1L196.9,219L194.4,219.8L192.6,221.3L191.5,221.5L190.1,222.4L189.6,223.3L186.8,225L185.2,226.3L183.8,227.8L183.1,229.7L183.1,231.5L183.3,233.7L183.9,235.6L183.7,236.7L184.2,239.7L183.9,241.5L183.6,242.5L182.8,244.1L182,244.4L181,244.1L180.8,242.9L180.1,242.3L179.3,240.1L178.6,238.1L178.5,237.1L179.3,235.3L178.9,233.9L177.7,231.7L176.9,231.3L174.4,232.5L174,232.4L173.2,231.2L172,230.5L169.4,230.9L167.5,230.6L165.8,230.7L164.8,231.1L165,231.8L164.7,232.9L165.1,233.4L164.6,233.8L163.9,233.4L162.9,233.9L161.3,233.8L160,232.4L158,232.7L156.5,232.1L155.1,232.3L153.1,232.9L150.6,234.8L148.1,236L146.6,237.2L145.8,238.4L145.4,240.2L145.3,241.5L145.5,242.3L144.6,242.4L143.1,241.8L141.6,241L141.2,239.8L141.1,238L140.2,236.5L139.7,235L139.1,233.2L137.8,232.1L136,232.2L134,234.2L132.4,233.5L131.5,232.7L131.3,231.2L131,229.9L130,228.7L129.1,227.9L128.6,227L124.8,227L124.4,228.1L122.7,228.1L118.3,228.1L113.9,226.2L111,225L111.4,224.5L108.5,224.7L105.9,224.9L106,223.6L105.2,222.1L104.3,221.8L104.3,221L103.2,220.9L102.7,220.2L100.7,219.9L100.4,219.5L100.7,218.1L99.7,215.5L99.5,211.9L99.9,211.3L99.3,210.4L98.7,208.2L99.4,206.1L99,204.7L100.6,202.5L101.8,200.3L102.2,198.3L104.4,195.9L107.7,191.2L109.5,187.8L110.2,185.6L110.4,184.4L111,183.9L113.3,184.8L112.9,187.2L113.8,186.5L114.8,184.4L115.5,182.4L171.3,182.4L171.8,181.4L172.5,181.4L172.1,182.8L173.9,183.3L175.7,183.8ZM226.2,193.9L225.5,196.1L225.3,196.1L225.9,193.9L226.2,193.8ZM76.5,161L73.6,162.1L70.8,163.1L70.5,162.5L71.4,161.3L74,160.4L75.4,160.1L76.5,160.2ZM113.7,159L113.3,160.8L112.7,163.5L114.6,165.1L113.3,166.6L111.2,167.8L111,166.9L109.9,166.1L111.3,164L110.6,162L111.7,159.7L110.1,159.5L107.1,159.5L105.6,158.8L104.3,156.3L103,155.8L100.6,155L97.9,155.2L95.4,154.1L94.3,153.1L91.8,153.6L90.3,155.2L89.1,155.4L86.5,155.9L84,156.7L81.3,157.2L82.6,155.8L86.1,153.4L88.8,152.7L89,152.1L85.2,153.4L82.2,155L77.6,156.7L77.6,157.9L74,159.6L70.9,160.7L68.2,161.4L66.6,162.5L62.2,163.7L60.4,164.9L57.1,165.9L56,165.8L53.5,166.4L50.6,167.3L48.1,168.1L44.1,168.8L44.2,168.4L47.6,167.2L50.3,166.5L53.7,165.1L56.4,164.8L58.4,163.8L62.7,162.4L63.6,161.9L65.9,161L68.3,159.2L70.8,157.8L67.9,158.5L67.7,158.1L65.7,159L65.9,157.7L64.4,158.6L65.1,157.4L62.1,158.4L60.9,158.4L62.5,156.9L63.8,156.1L63.6,155.2L60.7,155.7L60.5,154.5L59.9,154L61.6,152.6L61.4,151.6L63.8,150.3L66.9,149L69.1,147.7L70.8,147.6L71.5,147.9L74.4,146.8L75.4,147L77.7,146.3L78.7,145.2L78.2,144.8L80.7,143.9L79.6,144L77.1,144.5L75.9,145L75.1,144.5L72.3,144.7L70.5,144.2L71,143.2L70.6,141.9L74.3,141L79.7,139.8L81.1,139.8L79.3,141L83.1,140.9L83.6,139.5L82.6,138.6L83,137.5L82.7,136.6L81.4,135.9L84,134.7L87.1,134.6L90.6,133.6L92.6,132.5L95.8,131.5L97.8,131.3L102.3,130.3L103.6,130.5L107.8,129.3L109.6,129.8L109.4,130.7L110.7,130.3L113.3,130.4L112.5,130.9L114.5,131.3L116.5,131.1L119,131.8L121.9,132L122.8,132.3L125.5,131.9L127.2,132.6L128.6,132.9L104.1,154.4L105.8,154.5L106.9,155.2L107.2,156.2L107.3,157.8L110.4,156.5L113,155.7L112.8,156.9L113.1,157.9Z"/>
<path class="c1" d="M181.5,249.6L183.5,250.4L184.2,251.4L186.4,251.1L187.1,251.7L188.8,253.3L190.1,254.5L190.8,254.5L192.1,255L191.9,255.7L193.5,255.9L195.1,256.9L194.8,257.5L193.2,257.9L191.7,258L190.2,257.8L186.9,258L188.6,256.6L187.7,255.9L186.3,255.7L185.6,255L185.2,253.5L184,253.6L181.9,252.9L181.3,252.4L178.4,252L177.7,251.4L178.6,250.8L176.5,250.7L174.7,252L173.7,252.1L173.3,252.7L172.1,253L171.2,252.7L172.5,251.9L173.1,251L174.2,250.4L175.5,249.9L177.2,249.6L177.8,249.3L179.7,249.5Z"/>
<path class="c3" d="M200.3,260.8L199.7,261.3L200.2,262.1L200.1,262.8L198.6,262.4L197.5,262.5L196.2,262.3L195,262.8L193.9,262L194.2,261.2L196.3,261.5L198,261.7L198.8,261.2L197.9,260L198,259L196.6,258.6L197.2,257.9L198.6,258L200.5,258.4L200.6,259.8Z"/>
<path class="c1" d="M199.7,261.3L200.3,260.8L200.6,259.8L200.5,258.4L200.9,258L202.6,258L203.9,258.7L204.5,258.6L204.8,259.5L206.1,259.5L205.9,260.2L206.9,260.3L207.9,261.3L207,262.4L206,261.8L204.9,261.9L204.2,261.8L203.7,262.3L202.8,262.4L202.5,261.8L201.8,262.2L200.7,263.9L200.1,263.5L200.1,262.8L200.2,262.1Z"/>
<path class="c1" d="M189.5,262.5L189.8,263.2L188.2,263.2L187.5,263.7L186.2,263.3L185.1,262.3L185.4,261.7L186.4,261.5L186.9,261.6L188.4,261.9Z"/>
<path class="c1" d="M223.4,281.6L223.2,283.5L221.3,283.8L220.9,283.6L221.6,282.8L221.6,281.8L222.9,281.5Z"/>
<path class="c1" d="M187.7,244.1L188.3,244.2L188.8,246.3L188.7,247.9L188.1,248L187.7,246.5L187,245.7ZM189.3,239.6L189.4,239.3L190.9,240.5L190.2,242.3L189.9,242L190.1,240.6ZM189.1,240.5L186.6,240.9L186.6,239.9L187.7,239.7L189.1,239.8Z"/>
<path class="c1" d="M232.8,452.2L230.8,452.2L228.4,446.6L229.6,447.8L231.4,449.7L234.5,451.1L237.5,451.8L237.2,453L235.4,453.1L234,452.3ZM219.5,442.9L219,441.7L217.8,441.9L216.7,441L215.4,438.3L216.6,437.2L216.6,435.6L215.9,434.3L216.1,432.1L215.7,428.7L214.9,427.2L215.7,426.7L215.1,425.8L214,425.2L214.3,424.2L213,423.2L211.5,420.2L212.2,419.7L210.9,416.5L210.6,413.9L210.5,411.6L211.5,410.6L210.2,408.1L209.5,405.7L210.7,404L210.1,401.8L210.8,399.2L210.3,396.8L209.6,396.4L207.6,391.9L208.4,389.2L207.8,386.6L208.1,384.3L209.2,381.8L210.5,380.2L209.7,379.2L210,378.3L209.4,374L211.7,372.7L211.8,369.3L215.7,367.4L216.5,367.6L218,369.5L218.6,367.4L220.7,367.4L221.6,368L226.2,372.3L228.1,372.7L231,374.6L233.5,375.6L233.9,376.8L232.2,380.8L234.6,381.5L237.1,381.9L238.8,381.5L240.6,379.5L240.7,377.2L241.8,376.7L243.1,378.1L243.3,380.2L241.6,381.7L240.2,382.7L238,385.3L235.6,388.9L235.4,390.9L235.2,393.6L235.7,396.2L235.3,396.8L235.5,398.5L235.7,401.3L238.1,401.6L238.8,402.1L238.9,403.9L240.5,405L240.6,406.3L239.3,409.6L236.4,411L232.2,411.6L229.8,411.3L230.6,412.9L230.7,414.8L231.4,416.1L230.4,417L228.4,417.4L226.1,416.4L225.4,417.1L226.5,419.7L228.1,420.5L229,419.6L230,421L228.3,421.8L227.1,423.4L227.6,426L227.6,427.4L225.6,427.4L224.5,428.7L224.5,430.6L227.1,432.5L229.3,433L229.3,435.3L227.4,436.7L227.2,439.7L225.8,440.7L225.4,441.9L227.1,444.5L229,445.9L228.1,445.8Z"/>
<path class="c1" d="M233.8,453.2L232.5,454L231.5,453.9L230.3,453.7L228.6,453L226.4,452.6L223.3,451.3L220.7,449.9L216.8,447.1L218.6,447.7L222.1,449.3L225.1,450.2L225.6,449.1L225.5,447.4L226.8,446.3L228.4,446.6L230.8,452.2L232.8,452.2L234,452.3ZM207.2,419.2L207.2,419L206.4,414.2L206.9,412.4L205.5,409.9L204.5,407L205.4,406.9L205.7,402.7L206.2,398.5L206.2,394.6L204.9,390.7L205.1,388.5L204.2,385.3L205,382.1L204.6,377.1L204.7,371.6L204.7,365.8L204.1,361.5L203.2,357.9L204.3,357.2L204.8,355.8L206.1,357.6L206.6,359.5L207.9,360.6L207.4,363.1L208.9,366.1L210.2,369.7L211.8,369.3L211.7,372.7L209.4,374L210,378.3L209.7,379.2L210.5,380.2L209.2,381.8L208.1,384.3L207.8,386.6L208.4,389.2L207.6,391.9L209.6,396.4L210.3,396.8L210.8,399.2L210.1,401.8L210.7,404L209.5,405.7L210.2,408.1L211.5,410.6L210.5,411.6L210.6,413.9L210.9,416.5L212.2,419.7L211.5,420.2L213,423.2L214.3,424.2L214,425.2L215.1,425.8L215.7,426.7L214.9,427.2L215.7,428.7L216.1,432.1L215.9,434.3L216.6,435.6L216.6,437.2L215.4,438.3L216.7,441L217.8,441.9L219,441.7L219.8,443.6L219.5,442.9L228.1,445.8L226.4,445.8L225.7,446.4L224.3,447.3L225,449.6L224.2,449.7L221.6,448.9L218.6,447.1L215.5,445.7L214.2,444.1L214.1,442.6L212.4,441L210.4,436.6L210.3,434.2L211.7,432.2L208.3,431.5L209.4,429.2L208.6,425L211.2,425.9L210.4,420.5L208.8,419.8L209.2,422.8L209.3,423.2L207.7,422.9L207.2,420.1Z"/>
<path class="c1" d="M162.1,261.6L162.5,261.6L162.9,262L162.8,262.7L162.2,263.8L162.4,264.2L162.1,265.2L162.2,265.4L161.7,266.7L161.2,267.4L160.8,267.5L160.3,268.4L159.6,268.4L160.1,265.5L160.4,263.4L160.4,263L160.7,262.9L161,263.2ZM163.5,262.2L163,261.6L163.7,261.6Z"/>
<path class="c1" d="M160,273L160.6,273.4L160.7,273.7L161.7,273.5L162.2,273.6L162.5,273.9L162.2,275L161.9,275.6L160.6,275.5L159.8,275.3L158.9,274.8L157.6,274.6L157,274L157.1,273.7L158,273L158.4,272.7L158.3,272.4L158.9,272.3L159.5,272.5Z"/>
<path class="c1" d="M152.8,270.6L152.5,270.1L153.9,267.9L156.8,267.9L157,267.1L156.6,266.9L156.4,266.3L155.7,265.7L154.9,264.9L155.9,264.9L156.1,263.4L158.3,263.4L160.4,263.4L160.1,265.5L159.6,268.4L160.3,268.4L161,268.9L161.2,268.5L161.8,268.8L159.5,270.6L159.3,271.1L159.4,271.6L158.9,272.3L158.3,272.4L158.4,272.7L158,273L157.1,273.7L157,274L155.9,273.6L154.5,273.5L153.5,273L152.3,271.9L152.5,271.2Z"/>
<path class="c1" d="M168.3,281.3L168.9,281L169.6,281.2L169.9,281.7L170.6,281.9L171.2,281.3L171.7,282.8L172.5,283.8L173.5,284.9L172.6,285.2L172.5,286.2L173,286.6L172.6,286.9L172.7,287.4L172.5,287.9L172.3,288.4L171.1,287.8L170.7,287.3L171,286.9L170.9,286.3L170.3,285.7L169.4,285.1L168.7,284.8L168.6,284L168,283.6L168.1,284.3L167.6,284.9L167.1,284.2L166.4,284L166.1,283.5L166.2,282.7L166.5,281.8L165.9,281.4L166.5,281L166.9,280.6Z"/>
<path class="c1" d="M172.7,287.4L172.6,286.9L173,286.6L172.5,286.2L172.6,285.2L173.5,284.9L174.3,285.9L174.2,286.4L175.1,286.5L175.3,286.3L175.9,287L177.1,286.8L178.1,286.1L179.5,285.6L180.3,284.8L181.6,285L181.5,285.2L182.8,285.3L183.8,285.8L184.5,286.5L185.3,287.3L185,287.7L185.5,289.2L185,290L184.3,289.8L183.9,291.1L183.2,290.3L182.7,288.9L183.4,288.2L182.8,288L182.4,287.1L181.3,286.4L180.3,286.6L179.8,287.5L178.8,288.2L178.3,288.2L178,288.8L179.1,290.2L178.4,290.5L178.1,290.9L177,291.1L176.7,289.5L176.3,289.9L175.6,289.8L175.2,288.7L174.3,288.6L173.7,288.3L172.7,288.3L172.6,288.8L172.3,288.4L172.5,287.9Z"/>
<path class="c1" d="M166.2,273.2L166.9,273.8L167.1,273.5L167.6,273.1L168.4,272.4L168.5,271.9L168.8,271.9L169.1,271.3L169.3,271.2L169.7,271.6L170.1,271.7L170.7,271.4L171.2,271.4L172.1,271.1L172.4,270.7L173.2,270.7L173,271L172.8,271.6L173,272.5L172.4,273.4L172,274.5L171.9,275.6L171.9,276.3L171.9,277.5L171.5,277.7L171.2,278.9L171.3,279.5L170.8,280.2L170.8,280.9L171.2,281.3L170.6,281.9L169.9,281.7L169.6,281.2L168.9,281L168.3,281.3L166.9,280.6L166.5,281L165.7,280.1L164.7,279.1L164.3,278.2L163.4,277.4L162.4,276.2L162.9,276.1L163,276.2L163.2,276L164,275.8L163.9,275.9L164.3,275.3L164.6,275.3L164.6,274L165.2,273.9L165.7,274Z"/>
<path class="c1" d="M161.8,268.8L162,268.9L162.6,268.5L163.2,268.4L163.4,268.6L163.8,268.5L164.8,268.8L165.9,268.7L166.7,268.4L167,268.1L167.7,268.3L168.2,268.4L168.8,268.4L169.3,268.1L170.3,268.5L170.6,268.5L171.3,269L171.9,269.6L172.7,270L173.2,270.7L172.4,270.7L172.1,271.1L171.2,271.4L170.7,271.4L170.1,271.7L169.7,271.6L169.3,271.2L169.1,271.3L168.8,271.9L168.5,271.9L168.4,272.4L167.6,273.1L167.1,273.5L166.9,273.8L166.2,273.2L165.7,274L165.2,273.9L164.6,274L164.6,275.3L164.3,275.3L164,275.8L163.2,276L162.9,275.2L162.2,275L162.5,273.9L162.2,273.6L161.7,273.5L160.7,273.7L160.6,273.4L160,273L159.5,272.5L158.9,272.3L159.4,271.6L159.3,271.1L159.5,270.6Z"/>
<path class="c1" d="M111.4,224.5L111,225L113.9,226.2L118.3,228.1L122.7,228.1L124.4,228.1L124.8,227L128.6,227L129.1,227.9L130,228.7L131,229.9L131.3,231.2L131.5,232.7L132.4,233.5L134,234.2L136,232.2L137.8,232.1L139.1,233.2L139.7,235L140.2,236.5L141.1,238L141.2,239.8L141.6,241L143.1,241.8L144.6,242.4L145.5,242.3L144.2,244.6L143.5,246.5L142.7,250L142.3,251.3L142.5,252.7L143,254L143.1,256L144.3,258L144.7,259.5L145.4,260.7L147.7,261.4L148.4,262.5L150.5,261.8L152.3,261.5L154.1,261.1L155.6,260.6L157.2,259.6L157.9,258L158.4,255.8L158.9,255.1L160.5,254.4L163,253.8L165,253.9L166.4,253.7L166.9,254.2L166.6,255.5L165.2,257L164.4,258.6L164.8,259.1L164.3,260.2L163.7,261.6L163,261.6L163,261.5L162.5,261.6L162.1,261.6L161.5,262.5L160.9,263.1L160.7,262.9L160.4,263L160.4,263.4L158.3,263.4L156.1,263.4L155.9,264.9L154.9,264.9L155.7,265.7L156.4,266.3L156.6,266.9L157,267.1L156.8,267.9L153.9,267.9L152.5,270.1L152.8,270.6L152.5,271.2L152.3,271.9L150.1,269.1L149,268.3L147.2,267.6L145.9,267.8L144,268.8L142.8,269L141.3,268.3L139.6,267.8L137.6,266.6L136,266.3L133.5,265.1L131.8,263.8L131.3,263.1L130.1,263L127.9,262.1L127.1,260.9L124.9,259.5L124.1,257.8L123.7,256.6L124.5,256.3L124.4,255.5L125,254.9L125.2,254L124.6,252.8L124.6,251.7L124.1,250.4L122.5,247.8L120.6,245.8L119.9,244.2L118.2,243.1L117.9,242.5L118.6,240.9L117.6,240.2L116.6,239L116.5,237.1L115.4,236.9L114.5,235.6L113.8,234.3L113.9,233.5L113.3,231.5L113.1,229.5L113.5,228.5L112.2,227.5L111.4,227.6L110.4,226.9L109.7,227.9L109.7,229.2L109.3,231.1L109.7,232.2L110.8,234L111,234.6L111.3,234.8L111.3,235.7L111.8,235.7L111.7,237.4L112.2,238L112.5,239L113.6,240.3L113.7,242.7L114.1,243.9L114.5,245.1L114.4,246.4L115.4,246.5L116.1,247.7L116.7,248.9L116.6,249.3L115.5,250.3L115.1,250.3L114.7,248.7L113.6,247.2L112.2,246L111.2,245.3L111.6,243.4L111.6,242L110.7,241.2L109.5,240L109.1,240.3L108.7,239.7L107.5,239L106.6,237.5L106.8,237.3L107.7,237.5L108.8,236.5L109.2,235.3L108,233.4L106.9,232.7L106.6,231.1L106.3,229.4L106,227.3L105.9,224.9L108.5,224.7Z"/>
<path class="c2" d="M237.7,298.9L238.6,300.5L238.2,301.6L238,302.8L237.4,303.9L236.1,303.3L235,303.6L234,303.4L233.8,304.1L234.2,304.6L234,305.2L232.7,305L231.3,302.7L231.1,301.2L230.3,301.2L229.3,299.3L229.8,298L229.7,297.4L231.1,296.7L231.5,294.3L234.3,294.8L234.5,294.4L236.4,294.2L238.9,294.9L237.6,297.1Z"/>
<path class="c1" d="M229.7,297.4L229.8,298L229.3,299.3L230.3,301.2L231.1,301.2L231.3,302.7L232.7,305L232.2,305.1L230.9,304.8L230.1,305.5L229.1,306L228.3,306.1L228.1,306.6L227,306.5L225.5,305.2L225.4,304L224.8,302.7L225.2,300.5L225.9,299.6L225.4,298.4L224.6,298L224.9,296.8L224.4,296.2L223.2,296.3L221.7,294.4L222.4,293.6L222.3,292.4L224.4,291.5L223.8,289.6L224.8,287.5L225.7,288.1L227.2,289L228.6,290.7L228.6,292.1L229.4,292.1L230.7,293.4L231.5,294.3L231.1,296.7Z"/>
<path class="c2" d="M207.3,293.5L205.9,293.9L204.3,293.7L203.3,294L201.8,291.7L200.5,291.4L197.5,291.7L197,290.7L196.5,290.5L196.4,290L196.7,289L196.6,288L196.1,287.4L195.8,286.2L194.7,286L195.4,284.5L195.8,282.6L196.5,281.7L197.4,280.9L198.1,279.6L199.6,279.1L199.5,279.8L198.1,280.1L198.8,281.3L198.7,282.6L197.6,284.1L198.3,286.2L199.4,286L200,284.2L199.3,283.3L199.3,281.3L202.2,280.2L202,279L202.8,278.2L203.6,280L205.2,280L206.6,281.5L206.6,282.4L208.6,282.4L211.1,282.1L212.4,283.3L214.1,283.6L215.4,282.8L215.5,282.1L218.4,282L221.1,281.9L219.1,282.7L219.8,283.9L221.7,284.1L223.4,285.4L223.6,287.5L224.8,287.5L223.8,289.6L224.4,291.5L222.3,292.4L222.4,293.6L221.7,294.4L223.2,296.3L223.5,297.1L222.6,298.1L220,299.1L218.4,299.4L217.7,300.1L215.9,299.4L214.2,299.1L213.7,299.3L214.7,300L214.6,301.7L214.9,303.4L216.9,303.6L217,304.2L215.3,304.9L215,306L214.1,306.4L212.4,307L211.9,307.9L210.1,308L208.8,306.7L208.2,304L207.6,303.1L206.7,302.6L208,301.2L207.9,300.7L207.2,299.9L206.8,298.2L207.1,296.3L207.6,295.4L208,294.2L206.5,294.2L206.3,293.8Z"/>
<path class="c1" d="M183.9,307.8L184.5,308.9L186.4,309.2L187.1,308.8L188.2,309.7L189.2,310.3L189.6,312.3L188.9,314L186.4,316.7L183.6,317.8L182.3,320L181.9,321.8L180.6,322.9L179.6,321.5L178.7,321.3L177.7,321.5L177.6,320.5L178.3,319.9L178,318.8L179.2,316.9L178.6,315.7L177.8,316.9L176.4,315.8L176.8,315.1L176.4,312.7L177.2,312.3L177.6,310.7L178.5,309L178.4,307.9L179.6,307.4L181.2,306.3L183.5,307.8Z"/>
<path class="c1" d="M190.1,310.9L189.2,310.3L188.2,309.7L187.1,308.8L186.4,309.2L184.5,308.9L183.9,307.8L183.5,307.8L181.2,306.3L180.9,305.5L181.8,305.3L181.7,304L182.2,303.1L183.4,302.9L184.4,301.2L185.3,299.9L184.5,299.2L185,297.7L184.6,295.3L185.1,294.6L184.8,292.4L183.9,291.1L184.3,289.8L185,290L185.5,289.2L185,287.7L185.3,287.3L186.5,287.4L188.3,285.5L189.3,285.3L189.3,284.4L189.9,282.2L191.3,281L192.7,280.9L192.9,280.4L194.7,280.6L196.6,279.3L197.5,278.7L198.7,277.4L199.5,277.6L199.9,278.1L200.1,278.3L199.6,279.1L198.1,279.6L197.4,280.9L196.5,281.7L195.8,282.6L195.4,284.5L194.7,286L195.8,286.2L196.1,287.4L196.6,288L196.7,289L196.4,290L196.5,290.5L197,290.7L197.5,291.7L200.5,291.4L201.8,291.7L203.3,294L204.3,293.7L205.9,293.9L206.3,293.8L207.4,295.8L207.1,296.3L206.8,298.2L207.2,299.9L207.9,300.7L208,301.2L206.7,302.6L207.6,303.1L208.2,304L208.8,306.7L208.4,307L208,305.4L207.3,304.6L206.6,305.5L202.1,305.5L202.1,307.1L203.4,307.3L203.4,308.4L202.9,308.1L201.6,308.5L201.6,310.4L202.6,311.4L203,312.8L202.9,314L202,321.2L200.9,319.8L200.2,319.7L201.6,317.1L199.8,315.8L198.4,316L197.6,315.6L196.3,316.3L194.6,316L193.2,313.2L192.1,312.5L191.4,311.3L190.1,310.3Z"/>
<path class="c2" d="M206.5,338.7L206.9,337.9L208.9,336.9L210.1,335.9L213,335.4L212.9,337.4L213.2,338.4L213.2,340.1L215.8,342.5L218.4,342.9L219.3,343.9L220.9,344.4L221.9,345.2L223.4,345.1L224.7,345.9L224.9,347.4L225.4,348.2L225.5,349.3L224.9,349.3L226,352.4L230.3,352.5L230.1,354L230.4,355L231.8,355.8L232.4,357.4L232.2,359.4L231.7,360.6L232,362.1L231.4,362.6L231.3,361.8L229,360.5L226.9,360.4L223,361.2L222.1,363.5L222.2,364.9L221.6,368L221.2,367.5L218.6,367.4L218,369.5L216.5,367.6L213.4,366.9L211.8,369.3L210.2,369.7L208.9,366.1L207.4,363.1L207.9,360.6L206.6,359.5L206.1,357.6L204.8,355.8L206,353L204.8,350.8L205.2,349.9L204.7,349L205.5,347.7L205.4,345.4L205.4,343.6L205.8,342.7L203.6,338.5L205.3,338.8Z"/>
<path class="c2" d="M232.3,367.6L234.8,368.1L235.6,367.6L237.2,368.3L237.7,369.1L238.1,371.5L238.5,372.5L239.3,372.6L240.2,372.2L241,372.7L241.2,374.1L241,375.6L240.7,377.2L240.6,379.5L238.8,381.5L237.1,381.9L234.6,381.5L232.2,380.8L233.9,376.8L233.5,375.6L231,374.6L228.1,372.7L226.2,372.3L221.6,368L222.2,364.9L222.1,363.5L223,361.2L226.9,360.4L229,360.5L231.3,361.8L231.4,362.6L232.2,364.1Z"/>
<path class="c1" d="M235.6,399.9L238.1,401.6L235.7,401.3L235.5,398.5ZM240.3,390.5L242.9,392.2L244.8,393.6L246.4,395.4L245.6,396.6L246.5,398.1L245.8,399.8L243.6,401.2L241.9,400.7L240.8,401L238.6,399.9L237.1,399.9L235.5,398.5L235.3,396.8L235.7,396.2L235.2,393.6L235.4,390.9L235.6,388.9L237,388.6L239.5,390.6Z"/>
<path class="c1" d="M191.8,311.9L192.1,312.5L193.2,313.2L194.6,316L196.3,316.3L196.9,316L200.3,319.4L200.2,319.7L200.6,319.7L202,321.2L200,321L197.8,321.9L195.2,323.7L195.1,324.9L194.5,325.8L194.8,327.2L193.5,328L193.5,329.1L192.9,329.6L194,331.9L195.3,333.5L194.9,334.6L196.4,334.8L197.4,336.2L199.4,336.2L201.2,334.7L201.3,338.7L202.3,339L203.6,338.5L205.8,342.8L205.4,343.6L205.4,345.4L205.5,347.7L204.7,349L205.2,349.9L204.8,350.8L205.7,352.6L204.8,355.8L204.3,357.2L203.2,357.9L200.8,356.3L200.5,355.3L195.7,352.7L191.3,349.8L189.4,348.2L188.3,346L188.6,345.3L186.4,341.8L183.8,337L181.4,331.8L180.4,330.6L179.6,328.7L177.7,327L176,326L176.7,324.8L175.5,322.3L176.2,320.5L178,318.8L178.3,319.9L177.6,320.5L177.7,321.5L178.7,321.3L179.6,321.5L180.6,322.9L181.9,321.8L182.3,320L183.6,317.8L186.4,316.7L188.9,314L189.6,312.3L189.2,310.3Z"/>
<path class="c1" d="M215.7,367.4L211.8,369.3L213.4,366.9ZM221.2,367.5L221.6,368L220.7,367.4L218.6,367.4ZM206,353L204.8,355.8L205.7,352.6L204.8,350.8ZM247.9,305.4L247.9,307.2L246.2,309.3L246.9,310.1L251,310.5L251.1,313.2L252.8,311.4L255.7,312.4L259.5,314L260.7,315.5L260.3,316.9L263,316.1L267.5,317.5L270.9,317.4L274.4,319.6L277.4,322.5L279.2,323.3L281.1,323.4L282,324.2L282.8,327.5L283.2,329.1L282.4,333.4L281.3,335.1L278.1,338.8L276.8,341.7L275.2,344L274.6,344L274,345.9L274.4,350.9L274,354.9L273.8,356.6L273.2,357.6L273,361.1L270.9,364.5L270.7,367.2L268.9,368.4L268.5,369.9L266.1,369.9L262.6,370.9L261.1,372.1L258.6,372.8L256.1,374.9L254.5,377.5L254.4,379.5L254.9,380.9L254.8,383.6L254.4,384.8L253,386.2L251.2,390.8L249.6,392.9L248.3,394.2L247.7,396.6L246.5,398.1L245.6,396.6L246.4,395.4L244.8,393.6L242.9,392.2L240.3,390.5L239.5,390.6L237,388.6L235.6,388.9L238,385.3L240.2,382.7L241.6,381.7L243.3,380.2L243.1,378.1L241.8,376.7L240.7,377.2L241,375.6L241.2,374.1L241,372.7L240.2,372.2L239.3,372.6L238.5,372.5L238.1,371.5L237.7,369.1L237.2,368.3L235.6,367.6L234.8,368.1L232.3,367.6L232.2,364.1L231.4,362.6L232,362.1L231.7,360.6L232.2,359.4L232.4,357.4L231.8,355.8L230.4,355L230.1,354L230.3,352.5L226,352.4L224.9,349.3L225.5,349.3L225.4,348.2L224.9,347.4L224.7,345.9L223.4,345.1L221.9,345.2L220.9,344.4L219.3,343.9L218.4,342.9L215.8,342.5L213.2,340.1L213.2,338.4L212.9,337.4L213,335.4L210.1,335.9L208.9,336.9L206.9,337.9L206.5,338.7L205.3,338.8L203.6,338.5L202.3,339L201.3,338.7L201.2,334.7L199.4,336.2L197.4,336.2L196.4,334.8L194.9,334.6L195.3,333.5L194,331.9L192.9,329.6L193.5,329.1L193.5,328L194.8,327.2L194.5,325.8L195.1,324.9L195.2,323.7L197.8,321.9L200,321L202,321.2L202.9,314L203,312.8L202.6,311.4L201.6,310.4L201.6,308.5L202.9,308.1L203.4,308.4L203.4,307.3L202.1,307.1L202.1,305.5L206.6,305.5L207.3,304.6L208,305.4L208.4,307L208.8,306.7L210.1,308L211.9,307.9L212.4,307L214.1,306.4L215,306L215.3,304.9L217,304.2L216.9,303.6L214.9,303.4L214.6,301.7L214.7,300L213.7,299.3L214.2,299.1L215.9,299.4L217.7,300.1L218.4,299.4L220,299.1L222.6,298.1L223.5,297.1L223.2,296.3L224.4,296.2L224.9,296.8L224.6,298L225.4,298.4L225.9,299.6L225.2,300.5L224.8,302.7L225.4,304L225.5,305.2L227,306.5L228.1,306.6L228.3,306.1L229.1,306L230.1,305.5L230.9,304.8L232.2,305.1L232.7,305L234,305.2L234.2,304.6L233.8,304.1L234,303.4L235,303.6L236.1,303.3L237.4,303.9L238.4,304.4L239.1,303.7L239.6,303.8L239.9,304.6L241,304.4L241.9,303.4L242.7,301.5L244.1,299.1L244.8,298.9L245.4,300.4L246.6,305ZM205.8,342.7L205.8,342.8L203.6,338.5ZM200.2,319.7L200.9,319.8L202,321.2L200.6,319.7ZM198.4,316L199.8,315.8L201.6,317.1L200.2,319.7L200.3,319.4L196.9,316L197.6,315.6ZM190.1,310.3L191.4,311.3L191.8,311.9L190.1,310.9ZM206.5,294.2L208,294.2L207.6,295.4L207.1,296.3L207.4,295.8Z"/>
<path class="c2" d="M640.5,336L640.3,336.7L639.4,336.7L636.5,334.9L638.7,334.4L639.8,335.2ZM635.1,331.8L636.5,331.5L637,332.7L634.3,333.2L632.7,333.5L631.5,333.5L632.4,332L633.6,332L634.3,331.1ZM643.7,332L645.8,331.1L645.4,332.5L641.9,333.2L638.8,332.9L638.9,332L640.8,331.4L642.1,332.2ZM622,331.8L619.6,331.6L617.5,331.1L614.9,330.1L613.2,329.9L612.2,330.2L608.1,329.1L607.8,328L605.7,327.8L607.4,325.3L610.2,325.5L612,326.5L612.9,326.7L613.2,327.6L617.6,327.9L618.1,326.8L622.3,328.1L623.1,329.7L626.5,330.2L629.2,331.8L626.5,332.8L624.1,331.7ZM607.1,321.2L606.9,325.2L604.3,325.3L602.5,323.1L599.6,320.9L598.7,319.3L597,317.2L595.9,315.3L594.2,311.6L592.2,309.4L591.5,307.2L590.6,305.2L588.5,303.5L587.2,301.3L585.4,299.8L582.9,296.9L582.6,295.6L584.1,295.7L587.7,296.2L589.9,298.8L591.7,300.5L593,301.6L595.3,304.4L597.6,304.5L599.6,306.3L601,308.5L602.7,309.7L601.8,311.8L603.1,312.7L603.9,312.7L604.3,314.6L605.1,316L606.8,316.3L607.8,317.9ZM634.3,312L632,313.8L631.9,316.4L630.9,320.4L630.6,319.5L627.9,320.7L627.1,319.1L625.4,318.9L624.3,318.1L621.5,319L620.7,317.7L619.2,317.9L617.3,317.6L617.1,314.1L615.9,313.3L614.8,311.1L614.5,308.8L614.8,306.4L616.1,304.7L616.5,306.4L618.1,307.9L619.6,307.4L621.1,307.6L622.4,306.2L623.5,306L625.7,306.7L627.6,306.2L628.7,302.6L629.5,301.6L630.2,298.7L632.9,298.7L634.9,299.1L635.1,305.1L637.6,307.6L635,307.9L634.2,309.7ZM650.6,334.4L648.9,336.4L646.9,337L646.6,336.7L646.9,335.8L648,334.2L650.4,333.1L650.6,333.7ZM672.3,312L672.6,312.9L673.2,317.2L675.5,318.7L677.5,316L680.2,314.4L682.3,314.4L684.2,315.3L685.9,316.2L688.3,316.7L687.9,325.2L687.3,333.7L685.4,331.6L683.1,331.1L682.5,331.8L679.6,331.9L680.7,329.8L682.2,329L681.9,326.2L680.9,324L676.5,321.8L674.7,321.6L671.3,319.2L670.6,320.4L669.7,320.7L669.2,319.7L669.2,318.6L667.5,317.3L670.1,316.3L671.7,316.4L671.5,315.7L668.2,315.7L667.3,314.2L665.2,313.7L664.3,312.4L667.4,311.7L668.6,310.9ZM656,318.1L656.6,319L655.6,319.8L654.1,319.3L653.7,318.2ZM659.6,318.9L658.1,318.8L658.7,317.3L661.5,317.2L664,318L664.8,320L662.9,318.9L661,318.7ZM638.7,319L637.7,319L637.1,317.2L638.1,315.5L638.4,313.4L639.6,309.5L640.1,308.4L642,306.5L643.9,307.3L646.8,307.6L649.4,307.5L651.7,305.6L652.1,306.2L650.3,308.8L648.5,309.3L646.3,308.8L642.5,308.9L640.4,309.3L640.1,311.3L642.2,313.6L643.4,312.4L647.7,311.5L647.5,312.7L646.5,312.3L645.5,313.9L643.4,314.9L645.5,318.3L645.1,319.1L647,322.1L646.9,323.9L645.6,324.6L644.8,323.7L646,321.6L643.7,322.6L643.1,321.9L643.5,320.9L641.9,319.3L642.1,316.8L640.6,317.6L640.7,320.6L640.6,324.4L639.1,324.7L638.1,324L638.9,321.6ZM658.4,310.6L659.3,312L658.7,312.3L657.8,310.6L657.1,307.3L657.5,305.2L658.2,304.3L658.4,305.7L659.8,305.9L660,307L660,309.2L658.8,309Z"/>
<path class="c2" d="M703.2,325.8L703.6,327.2L701.5,327.5L701.8,329.2L703.7,330.9L705,333.7L706.3,333.6L706.1,334.8L707.8,335.2L707.1,335.7L709.4,336.8L709.1,337.6L707.5,337.7L707,337.1L705.1,336.8L702.8,336.4L701.2,334.7L700,333.3L699.1,331L696.1,329.8L694.2,330.6L692.7,331.5L692.8,333.4L690.9,334.3L689.7,333.8L687.3,333.7L687.9,325.2L688.3,316.7L692.3,318.5L696.5,320L698,321.3L699.2,322.7L699.4,324.2ZM722,327.7L721.3,328L720.4,327L719.5,325.3L719.1,323.3L719.5,323.1L719.7,323.9L720.3,324.5L721.3,326.1L722.3,327ZM707,324.5L708.3,324.3L708.7,323.1L709.1,323L709.2,324.4L710.5,324.2L711.2,323.3L712.6,322.4L712.5,320.8L713.8,320.8L714.3,321.2L714.1,322.6L713.2,324.2L712,324.4L711.6,325.2L710.3,325.8L709.1,326.4L707.9,326.4L706,325.7L704.8,324.9L705,324.1ZM716.1,321.7L715.3,322.4L715,320.8L714.5,319.8L713.5,319L712.2,317.9L710.6,317.1L711.3,316.5L712.5,317.2L713.3,317.8L714.2,318.4L715.1,319.5L715.9,320.3Z"/>
<path class="c2" d="M646.9,290.5L645.8,290.4L644.2,291.9L643.7,291.1L644.5,288.9L645.9,288.2L647,287.2L647.9,288.4L649.6,287.7L649.9,286.5L651.5,286.4L651.2,284.4L653.2,285.7L653.5,287L653.8,288L654.1,289.7L654.4,291.1L653.7,293.5L652.7,290.9L651.7,292.2L652.6,294.1L652,295.3L649.2,293.8L648.4,291.9L649,290.7L647.5,289.5ZM635.1,284.6L636.3,282.8L637.2,280.2L637.9,282.4L636.5,283.8L635.5,285.6L632.6,288.1L633.6,286.2ZM644.7,283.9L645.2,283.1L645.3,281.5L646.5,281.3L646.3,283.1L647.8,280.6L647.8,283.1L647.1,283.9L646.5,285.6L645.8,286.4L644.3,284.6ZM642.6,278.9L644,279.7L645.5,279.7L645.6,280.7L644.6,281.9L643.2,282.7L643,281.4L643.1,280.1ZM647.8,277.1L650,277.2L650.8,278.2L651.7,281.1L649.9,280.4L650,281.2L650.8,282.9L649.7,283.5L649.5,281.6L648.8,281.5L648.2,279.9L649.6,280.1L649.5,279.1ZM641.4,275.8L641,278L639.9,276.7L638.5,274.7L640.5,274.8ZM645.5,275.9L644.5,274.5L644,275.5L642.3,273.9L640.3,274.3L639.1,273.7L639.1,272.6L639.7,272L638.9,271.4L638.7,272.3L637.4,270.8L636.9,269.7L636.5,267.2L637.5,268L637.1,263.9L637.4,261.6L638.8,261.6L640.3,262.3L640.9,261.6L641.3,262.3L641.1,263.4L642.2,265.3L641.9,267.4L640.7,268.3L640.7,270.4L641.4,272.5L642.7,272.8L643.7,272.5L646.7,273.9L646.7,275.3L647.5,276L647.4,277.2Z"/>
<path class="c3" d="M652.8,331.9L654.4,331.9L655.1,331.5L656,331.9L655.1,332.6L652.6,333.7L650.6,334.4L650.6,333.7L650.4,333.1L650.7,332.5Z"/>
<path class="c0" d="M675.9,416.5L677,416.6L675.2,419.7L673.9,420.6L672.3,422.7L672,422L669.3,423.7L669,423.6L667.8,423.5L668,421.3L668.8,419.6L669,417.4L669.8,416.2L671.1,416.4L672.5,417.3L673.9,417ZM694.3,348L695.2,349L694.8,350.2L694.9,352.5L695,353.8L695.5,354.1L695.7,356.3L695.1,357.7L695.5,359.4L697.7,360.8L699,362.1L700.2,363.2L699.8,363.8L700.7,365.5L700.9,368.3L702,367.7L702.6,368.8L703.3,368.4L703,371.2L704.1,372.8L704.9,373.8L706.1,375.9L706.1,378L705.6,379.5L704.9,381.1L705.2,383.3L704.2,385.6L703.4,386.9L701.8,389.2L701.2,390.7L700,392.6L697.9,394.9L695.7,396.2L693.9,398.3L692.5,399.5L690.7,401.8L689.2,403.1L687.6,405L686.4,406.8L686,407.7L684.3,408.6L681.8,408.7L679.2,409.7L677.7,410.7L675.7,411.9L674.6,410.7L673.6,410.3L674.7,408.9L673.2,409.4L670.3,411.3L668.8,410.6L667.9,410.1L666.7,410L665.1,409.2L664.5,407.6L665.1,405.6L665.8,403.2L664.7,403.2L662.8,402.9L664.1,401.7L664.5,399.7L662.6,401.6L660.4,402L662.2,400.6L663.3,399.1L664.7,397.8L665.4,395.9L662.6,398.1L660.9,399L659.1,401.1L657.9,400L658.5,398.6L658,396.7L657.3,395.7L657.9,395.1L655.7,393.5L654.2,393.5L652.6,392.2L648.6,392.4L645.4,393.4L642.5,394.2L640.5,394.1L637.6,395.4L635.5,396L634.6,397.4L633.3,398.4L631.4,398.5L630,398.7L628.2,398.3L626.5,398.5L625,398.7L623.2,400.1L622.6,399.9L621.2,400.7L619.8,401.5L618.2,401.4L616.8,401.4L615.1,399.7L614.2,399.3L614.8,397.7L616,397.4L616.6,396.8L616.8,395.9L617.7,394.1L618,392.5L617.7,389.8L617.8,388.4L618.4,386.9L618,385.2L618.1,384.4L617.4,383.4L617.7,381.3L617,379.2L616.9,378.1L617.6,379.3L617.4,376.8L618.4,377.6L618.8,378.6L619.1,377.3L618.4,375.2L618.4,374.4L618,373.6L618.6,372.1L619.2,371.5L619.7,370.2L619.8,368.6L621,366.8L620.8,368.7L622.1,366.9L624.1,366.1L625.4,365L627.3,364L628.4,363.8L628.9,364.1L630.9,363.1L632.3,362.8L632.8,362.3L633.4,362L634.7,362.1L637.2,361.3L638.6,360.2L639.5,358.8L641,357.5L641.3,356.4L641.6,355L643.6,352.8L644.2,355L645.2,354.5L644.6,353.3L645.5,352L646.5,352.6L647,350.6L648.5,349.3L649.2,348.3L650.4,347.8L650.5,347.1L651.5,347.4L651.6,346.7L652.7,346.4L653.8,346L655.3,347.2L656.4,348.8L657.8,348.8L659.2,349L659,347.6L660.4,345.5L661.5,344.8L661.2,344.2L662.4,342.7L663.9,341.7L665,342L667,341.6L667.1,340.2L665.5,339.4L666.8,339L668.3,339.6L669.3,340.7L671.2,341.4L671.9,341.1L673.2,341.9L674.6,341.2L675.5,341.4L676.1,340.9L677,342.2L676.2,343.6L675.2,344.6L674.4,344.7L674.5,345.8L673.6,347.1L672.6,348.4L672.7,349.1L674.3,350.5L675.9,351.4L676.9,352.3L678.2,353.8L678.9,353.8L680,354.5L680.2,355.3L682.2,356.2L683.8,355.3L684.5,353.9L685.2,352.7L685.8,351.3L686.8,349.2L686.7,348L687,347.2L686.9,345.7L687.5,343.7L688,343.2L687.8,342.3L688.5,341L689.1,339.5L689.3,338.8L690.3,337.8L690.8,339.1L690.7,340.7L691.2,341L691.2,342.1L691.8,343.4L691.8,344.9L691.6,345.9L692.1,347.9L693.7,346.9Z"/>
<path class="c1" d="M724.6,418.9L725.9,418.3L727.3,416.8L729.7,415.6L729.3,416.7L729,417.8L731.3,416.8L731.1,417.9L730.3,418.9L728.6,420.1L725.7,422L723.8,423.1L723.5,424.3L721.9,424.4L719.3,425.3L717.3,427L714,429.6L711.4,430.8L709.8,431.5L707.9,431.4L707.3,430.6L705.3,430.4L705.7,429.5L708.3,427.6L713,425L714.7,424.5L717,423.6L719.9,422.2L722.2,420.9ZM732.5,418.7L732.7,418.1L732.1,417.7L734.9,415.6L735.2,414.1L733.7,413.1L734.4,412.1L736.5,411.2L738.2,409.2L739.3,407.5L739.5,405.8L739.9,405.3L739.5,404.3L739.2,402L739.4,400.1L740.3,399.9L740.6,401.4L741.9,402L741.1,404.4L740.9,407.1L742.1,405.3L742.6,406L741.7,408L742.8,408.8L744.2,409.1L746.1,408.1L746.9,408.4L744.8,410.7L743.1,412.2L741.5,412.1L740.4,412.9L739.8,414L739.2,414.5L737.3,415.9L734.9,417.7Z"/>
<path class="c2" d="M767.6,357.7L766.4,357.4L766.5,356.2L767.6,355.3L768.6,355.6L769.2,355.2L769.8,356L769.1,357.3ZM771.4,352.8L772.2,352.7L773.7,351.9L773.4,353.2L771.8,353.8L770.2,354.4L770.2,353.4Z"/>
<path class="c2" d="M733.6,336.6L734.9,337.2L735.3,337.3L735.8,338.2L734.2,338.2ZM731.7,335.8L730.3,335.5L729.9,335.1L730.1,334.1L731.6,334.5L732.3,335L732.6,335.7ZM732.4,331.7L733.2,331.7L733.8,333.7L734.6,335L734.2,335.5L732.7,333.2ZM728.6,329.7L730.3,330.9L730.8,331.7L730.8,332.2L729.1,331.1L728,330.2L727.2,329.3L727.6,329ZM723.5,327.2L724.8,328.3L725.7,329.1L725.2,329.2L724.2,328.7L723.4,327.6Z"/>
<path class="c2" d="M744.6,351.4L745.7,352.9L744.9,353.3L744.4,352.1ZM743.8,350.9L743.6,350.1L743.9,348.1L744.9,348.9L744.8,351L744.3,350.7Z"/>
<path class="c1" d="M629,298.6L627.9,298.6L627.5,299.4L626.3,298.1L627.2,297.1L629.1,295.7L629.1,297Z"/></g>
<text class="leg" x="239.4" y="509.7" font-size="12.3" text-anchor="middle">No data</text>
<rect x="215.5" y="516.8" width="47.8" height="11.6" fill="url(#nd)" stroke="#c4c4c4" stroke-width="0.8"/>
<line x1="239.4" y1="514.3" x2="239.4" y2="516.8" stroke="#999" stroke-width="0.7"/>
<rect x="283.2" y="516.8" width="58.5" height="11.6" fill="#fef0d9"/>
<rect x="341.7" y="516.8" width="58.5" height="11.6" fill="#fdd49e"/>
<rect x="400.2" y="516.8" width="58.5" height="11.6" fill="#fdbb84"/>
<rect x="458.7" y="516.8" width="58.5" height="11.6" fill="#fc8d59"/>
<rect x="517.2" y="516.8" width="58.5" height="11.6" fill="#e34a33"/>
<rect x="575.7" y="516.8" width="58.5" height="11.6" fill="#b30000"/>
<rect x="283.2" y="516.8" width="351" height="11.6" fill="none" stroke="#b8b8b8" stroke-width="0.7"/>
<line x1="283.2" y1="514.3" x2="283.2" y2="528.4" stroke="#8f8f8f" stroke-width="0.7"/>
<text class="leg" x="283.2" y="509.7" font-size="12.3" text-anchor="middle">0</text>
<line x1="341.7" y1="514.3" x2="341.7" y2="528.4" stroke="#8f8f8f" stroke-width="0.7"/>
<text class="leg" x="341.7" y="509.7" font-size="12.3" text-anchor="middle">0.3</text>
<line x1="400.2" y1="514.3" x2="400.2" y2="528.4" stroke="#8f8f8f" stroke-width="0.7"/>
<text class="leg" x="400.2" y="509.7" font-size="12.3" text-anchor="middle">1</text>
<line x1="458.7" y1="514.3" x2="458.7" y2="528.4" stroke="#8f8f8f" stroke-width="0.7"/>
<text class="leg" x="458.7" y="509.7" font-size="12.3" text-anchor="middle">3</text>
<line x1="517.2" y1="514.3" x2="517.2" y2="528.4" stroke="#8f8f8f" stroke-width="0.7"/>
<text class="leg" x="517.2" y="509.7" font-size="12.3" text-anchor="middle">10</text>
<line x1="575.7" y1="514.3" x2="575.7" y2="528.4" stroke="#8f8f8f" stroke-width="0.7"/>
<text class="leg" x="575.7" y="509.7" font-size="12.3" text-anchor="middle">30</text>
<line x1="634.2" y1="514.3" x2="634.2" y2="528.4" stroke="#8f8f8f" stroke-width="0.7"/>
<text class="leg" x="634.2" y="509.7" font-size="12.3" text-anchor="middle">100</text>
<text class="foot" x="15.6" y="560.8" font-size="12.6" transform="translate(15.6 0) scale(0.996 1) translate(-15.6 0)"><tspan font-weight="bold">Data source:</tspan> IHME, Global Burden of Disease (2025)</text>
<text class="foot" x="15.6" y="580.6" font-size="12.6" transform="translate(15.6 0) scale(1.0176 1) translate(-15.6 0)"><tspan font-weight="bold">Note:</tspan> To allow for comparisons between countries and over time, this metric is age-standardized.</text>
<text class="foot" x="831.8" y="560.8" font-size="12.6" text-anchor="end" transform="translate(831.8 0) scale(1.03 1) translate(-831.8 0)">OurWorldinData.org/causes-of-death | CC BY</text>
</svg></body></html>
